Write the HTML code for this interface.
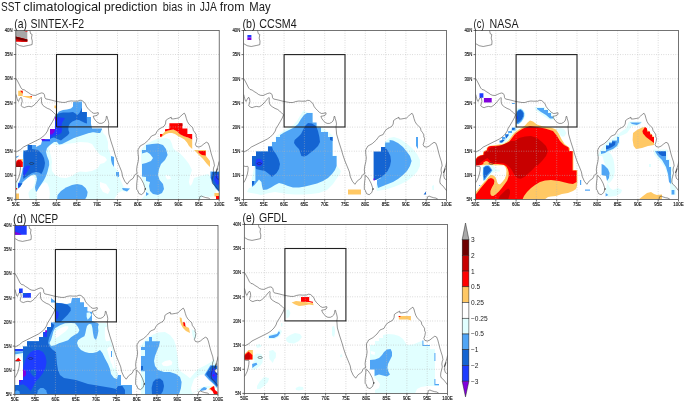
<!DOCTYPE html>
<html lang="en"><head><meta charset="utf-8"><title>SST climatological prediction bias in JJA from May</title>
<style>html,body{margin:0;padding:0;background:#fff}svg{display:block}text{font-family:"Liberation Sans", "DejaVu Sans", sans-serif;fill:#1a1a1a}.t{font-size:13.5px}.k{font-size:5.8px;fill:#111;stroke:#111;stroke-width:0.15px}.cb{font-size:6.6px;fill:#222}</style></head><body>
<svg width="685" height="402" viewBox="0 0 685 402">
<rect width="685" height="402" fill="#fff"/>
<text class="t" y="10.9"><tspan x="1" textLength="19.4" lengthAdjust="spacingAndGlyphs">SST</tspan> <tspan x="23.3" textLength="77.7" lengthAdjust="spacingAndGlyphs">climatological</tspan> <tspan x="104" textLength="53.3" lengthAdjust="spacingAndGlyphs">prediction</tspan> <tspan x="162.8" textLength="19.8" lengthAdjust="spacingAndGlyphs">bias</tspan> <tspan x="187.1" textLength="8.5" lengthAdjust="spacingAndGlyphs">in</tspan> <tspan x="199.7" textLength="16.6" lengthAdjust="spacingAndGlyphs">JJA</tspan> <tspan x="219.8" textLength="24.8" lengthAdjust="spacingAndGlyphs">from</tspan> <tspan x="249.3" textLength="21.3" lengthAdjust="spacingAndGlyphs">May</tspan></text>
<text class="t" y="27.5"><tspan x="14.3" textLength="12.7" lengthAdjust="spacingAndGlyphs">(a)</tspan> <tspan x="30.5" textLength="53.7" lengthAdjust="spacingAndGlyphs">SINTEX-F2</tspan></text>
<clipPath id="cpa"><rect x="0" y="0" width="203.4" height="169"/></clipPath>
<g transform="translate(15.8 30.4)">
<g clip-path="url(#cpa)">
<path d="M-0.4 0.1 L11.5 0.1 L11.5 9.1 L-0.4 6Z" fill="#a8a8a8"/>
<path d="M-0.4 6 L11.5 9.1 L11.5 11.3 L-0.4 11.3Z" fill="#ff0000"/>
<path d="M-0.4 6 L11.5 9.1 L11.5 11.3 L6.2 11.3 L2.6 10.5 L-0.4 9.1Z" fill="#c80000"/>
<path d="M-0.4 6 L11.5 9.1 L11.5 10.9 L6.2 9.9 L-0.4 8Z" fill="#6e0000"/>
<path d="M8.6 0.5 L11.6 0.5 L11.6 1.3 L10.1 1.2Z" fill="#ff0000"/>
<path d="M2.4 60.3 L6.9 60.3 L6.9 65.5 L16.1 65.5 L16.1 68.5 L6.9 66.1 L6.9 65.6 L2.4 65.6Z" fill="#ffc864"/>
<path d="M4.4 60.3 L6.9 60.3 L6.9 63.3Z" fill="#ff0000"/>
<path d="M14.1 65.5 L16.1 65.5 L16.1 66.8Z" fill="#ff0000"/>
<path d="M38.6 75.2 L40.2 75.2 L40.2 78 L38.6 77.6Z" fill="#ffc864"/>
<path d="M76.2 98 L86.2 98 L87.2 102.6 L90.2 105.6 L92.2 111.6 L92.2 117.6 L94.2 122.6 L95.2 125.6 L98.6 126.6 L98.6 136.6 L103.2 141.6 L103.6 147.2 L108.2 157.2 L114.6 158 L111.2 161.6 L106.2 160.6 L102.2 162.6 L98.2 169 L11.2 169 L11.2 162.6 L8.2 159.6 L4.2 158.6 L0.2 160.6 L0.2 151.6 L3.2 151.6 L5.2 145.6 L7.2 136.6 L7.2 120.6 L7.2 120 L11.6 120 L11.6 114.6 L20.2 114.6 L20.2 116.6 L25.2 114 L26.2 110.6 L26.2 108.8 L34.2 108.8 L34.2 98.6 L39.2 98.6 L39.2 87 L40.6 84.6 L43.2 81 L47.2 79.6 L51.2 79 L55.2 78 L57.2 76 L57.2 71.6 L66.2 71.2 L66.2 81.6 L71.2 81.6 L71.2 86.6 L75.2 86.6 L75.2 93.6Z" fill="#e1ffff"/>
<path d="M33.6 116 L36.2 113.6 L43.2 115.2 L50.2 113.6 L58.2 112.6 L64.2 111.6 L72.2 112 L76.2 113.6 L80.2 119.6 L84.2 124.6 L89.2 126.6 L91.2 129.6 L88.2 132.6 L84.2 133.6 L82.2 137.6 L76.2 140.6 L70.2 141.6 L64.2 141.2 L60.2 142.6 L56.2 145.6 L50.2 147.6 L44.2 147.2 L39.2 144.6 L36.2 140.6 L35.6 135.6 L36.2 131.6 L35.6 127.6 L34.6 123.6 L33.6 119.6Z" fill="#ffffff"/>
<path d="M6.6 152.6 L9.2 150 L12.2 147.6 L15.6 145.4 L18.2 146 L19.4 149.6 L18.6 153.6 L17.2 157.6 L14.2 159.6 L12.6 162.6 L13.2 166.6 L14.2 169 L3.6 169 L3.6 162.6 L2.4 158.6 L4.6 156Z" fill="#ffffff"/>
<path d="M26.2 153.6 L29.2 151.6 L31.6 153 L33.4 157.6 L34 163.6 L33.4 169 L21.2 169 L20.6 162.6 L23.2 157.6Z" fill="#ffffff"/>
<path d="M84.2 151.6 L90.2 153.6 L94.2 159.6 L92.2 163.6 L87.2 161.6 L84.2 156.6Z" fill="#ffffff"/>
<path d="M57.2 71.6 L66.2 71.2 L66.2 81.6 L71.2 81.6 L71.2 86.6 L75.2 86.6 L75.2 93.6 L76.2 98 L86.2 98 L84.2 102.6 L76.2 101.6 L70.2 103.6 L64.2 105.6 L58.2 107.6 L54.2 109.6 L50.2 111.6 L46.2 113.6 L43.2 114 L41.2 111.6 L38.2 111.6 L34.2 114.6 L31.2 117.6 L30.2 121.6 L31.2 125.6 L33.2 130.6 L33.4 134.6 L32.6 137.6 L31.6 141.6 L30.2 145.6 L28.2 149.6 L25.6 153.6 L23.2 157 L20.6 161.6 L19.6 159.6 L19.2 156.6 L20.2 152.6 L21.2 148.6 L20.2 144.6 L17.6 144 L15.2 145 L12.2 147 L9.2 149.6 L6.6 152 L4.6 156 L2.4 158.2 L2.4 153 L4.2 149.6 L5.2 145.6 L6.2 141.6 L7.2 136.6 L7.2 120.6 L7.2 120 L11.6 120 L11.6 114.6 L20.2 114.6 L20.2 116.6 L25.2 114 L26.2 110.6 L26.2 108.8 L34.2 108.8 L34.2 98.6 L39.2 98.6 L39.2 87 L40.6 84.6 L43.2 81 L47.2 79.6 L51.2 79 L55.2 78 L57.2 76Z" fill="#50a5f5"/>
<path d="M41.2 169 L41.8 164.6 L45.2 160.6 L50.2 157.2 L56.2 154.6 L61.2 153.6 L66.2 154.6 L69.8 157.6 L71.8 161.6 L71.2 165.6 L69.2 169Z" fill="#50a5f5"/>
<path d="M95.2 125.6 L98.2 126.6 L98.2 136.6 L96.2 133.6 L95.2 129.6Z" fill="#50a5f5"/>
<path d="M100.2 141.6 L103.2 141.6 L103.2 146.6 L100.2 145.6Z" fill="#50a5f5"/>
<path d="M106.2 157.6 L114.2 158 L111.2 161.2 L107.2 159.6Z" fill="#50a5f5"/>
<path d="M72.2 87.6 L75.2 87.6 L75.2 95.6 L72.2 95.6Z" fill="#50a5f5"/>
<path d="M42.6 83 L47.2 82 L53.2 82 L57.2 81.6 L59.6 83 L61.6 84.6 L63.6 82.6 L65.2 79.6 L66.2 77 L66.2 81.6 L71 81.6 L71 87.6 L71.2 93 L69.2 92.6 L66.2 91 L63.2 89.6 L60.2 89.6 L56.6 91 L54.2 93 L52.6 96 L52.6 99.6 L53.6 102.6 L52.2 104.6 L49.6 106.6 L47.6 108 L45.2 110 L41.6 108.6 L38.2 107 L34.6 108 L34.2 108.8 L34.2 98.6 L39.2 98.6 L39.2 87 L40.6 84.6Z" fill="#1464d2"/>
<path d="M12.2 114.6 L16.2 114.6 L16.2 118.6 L22.2 119.6 L26.2 123.6 L28.2 127.6 L29.2 132.6 L28.6 136.6 L27.2 140.6 L25.6 143.6 L23.2 142 L20.2 141.6 L16.2 142.6 L13.2 144.6 L10.2 146.6 L7.6 148.6 L7.2 143.6 L8.2 136.6 L8.2 129.6 L7.8 125.6 L8.2 120.6 L12.2 119.6Z" fill="#1464d2"/>
<path d="M39.6 86.6 L44.2 87 L49.2 87.6 L47.6 90 L46.2 92.6 L45.6 96 L46.4 99 L45.6 102.6 L42.6 104 L39.2 105 L36.2 106.6 L34.6 108 L34.2 108.8 L34.2 98.6 L39.2 98.6Z" fill="#1e3cff"/>
<path d="M26.2 108.8 L34.2 108.8 L34.2 110.8 L26.2 110.8Z" fill="#1e3cff"/>
<path d="M7.6 137.6 L11.2 135 L14.6 135.6 L13.2 138.6 L11.2 141.6 L9.2 144.6 L7.6 146.6Z" fill="#1e3cff"/>
<path d="M2.4 152.8 L6.8 152.8 L4.6 156 L2.4 158.2Z" fill="#1464d2"/>
<path d="M2.4 153.2 L4.6 153.2 L3.4 155.6 L2.4 156.6Z" fill="#1e3cff"/>
<path d="M39.2 87 L40.4 87 L40.4 90 L39.2 90Z" fill="#8200dc"/>
<path d="M34.2 98.6 L39.2 98.6 L38.6 101.6 L36.2 104 L34.2 104Z" fill="#8200dc"/>
<path d="M25.6 108.6 L29.6 108.6 L28.6 109.8 L25.6 109.8Z" fill="#8200dc"/>
<path d="M3.2 128.6 L7 128.6 L7 132.6 L5.2 129.6Z" fill="#ffc864"/>
<path d="M0.2 133.6 L0.6 130.6 L2.6 129 L5.2 129.4 L7 132 L7 136.6 L0.2 136.6Z" fill="#ff0000"/>
<path d="M0.2 134 L1 131.6 L2.6 130.4 L4.2 131.6 L5 134.6 L4.6 136.6 L0.2 136.6Z" fill="#c80000"/>
<path d="M0.2 126 L3.6 125 L2.2 126.6 L0.2 127.6Z" fill="#50a5f5"/>
<path d="M0.2 157.6 L1.4 157.6 L1.4 159.2 L0.2 159.2Z" fill="#ff0000"/>
<path d="M0.2 163.2 L3.2 163.2 L3.2 169 L0.2 169Z" fill="#ffc864"/>
<path d="M125.2 119.6 L130.2 113.6 L136.2 110.6 L141.2 108.6 L145.2 108.2 L150.2 107.6 L154.2 109 L156.2 113.6 L157.2 117.6 L160.2 120.6 L163.8 122.6 L167.2 126 L170.2 129.6 L173.2 133.6 L176.2 139.6 L174.2 145.6 L173.2 151.6 L174.2 155.6 L176.2 153.6 L178.2 147.6 L184.2 145.6 L192.2 143.6 L196.2 147.6 L200.2 153.6 L200.2 161.6 L198.2 165.6 L194.2 166.6 L188.2 165.6 L184.2 169 L125.2 169 L130.2 163.6 L129.2 157.6 L125.8 146Z" fill="#e1ffff"/>
<path d="M149.2 144.6 L154.2 145.6 L155.2 148.6 L151.2 149.2Z" fill="#ffffff"/>
<path d="M126.2 119.6 L130.2 119.6 L130.2 114.6 L136.2 113.6 L142.2 113.2 L147.2 114.6 L150.2 118.6 L151.8 124.6 L149.2 129.6 L145.2 133.6 L143.2 138.6 L142.2 144.6 L143.8 149.6 L147.2 153.6 L148.2 158.6 L146.2 162.6 L142.2 164.6 L137.2 163.6 L134.2 160.6 L133.2 155.6 L134.2 151.6 L130.2 150.6 L130.2 146.6 L126.2 146 L126.2 133.6 L130.2 132.6 L135.2 130.6 L137.2 127.6 L134.2 123.6 L131.2 121.6 L126.2 123.2Z" fill="#50a5f5"/>
<path d="M130.2 161.6 L133.2 163.6 L130.2 165.6Z" fill="#50a5f5"/>
<path d="M144.2 106 L146.2 104 L149.2 101 L153.2 99.6 L157.6 99 L161.2 100.6 L164.2 103.6 L168.2 105.6 L172.2 107 L176.4 109 L176.4 118.6 L173.2 115.6 L171.2 112 L168.6 109 L165.2 107 L162.2 105.6 L159.2 103.6 L156.2 102.6 L153.2 102.6 L150.2 103.6 L147.2 105.6 L145.2 107Z" fill="#ffc864"/>
<path d="M153.6 92.8 L166.6 92.8 L166.6 98 L171.6 98 L171.6 103.6 L176.4 103.6 L176.4 109.2 L172.2 107.2 L168.2 105.8 L164.2 103.8 L161.2 100.8 L157.6 99.2 L153.2 99.8 L149.2 101.2 L149.2 98.8 L153.6 98.4Z" fill="#ff0000"/>
<path d="M162.6 93 L166.6 93 L166.6 95.6 L162.6 95Z" fill="#c80000"/>
<path d="M144.2 103.6 L146.6 103.6 L146.6 105 L145.2 106.6 L144.2 106Z" fill="#ff0000"/>
<path d="M178.2 119.6 L190.2 119.6 L190.2 125.6 L194.2 130.6 L194.2 136.6 L191.2 133.6 L187.2 128.6 L183.2 124.6 L180.2 121.6Z" fill="#ffc864"/>
<path d="M182.2 120.6 L189.8 120.6 L189.8 125.2 L186.2 124.6 L183.2 122.6Z" fill="#ff0000"/>
<path d="M194.6 141.2 L203.4 141.2 L203.4 161.6 L200.2 158.6 L196.6 152.6 L194.6 147.2Z" fill="#50a5f5"/>
<path d="M196.2 141.6 L203.4 141.6 L203.4 160.6 L200.2 157.6 L197.2 152.6 L195.2 147.6Z" fill="#1464d2"/>
<path d="M199.2 144.6 L202.2 143.6 L203.4 153.6 L201.2 154.6 L198.2 149.6Z" fill="#1e3cff"/>
<path d="M198.6 162.6 L203.4 162.6 L203.4 166 L198.6 166Z" fill="#ffc864"/>
<path d="M200.2 165.6 L203.4 165.6 L203.4 169 L200.2 169Z" fill="#ff0000"/>
<path d="M72.2 98.6 L86.2 98.6 L84.2 102.6 L78.2 101.6 L72.2 102.6Z" fill="#50a5f5"/>
<path d="M20.3 0V169M40.7 0V24.1 M40.7 96.6V169M61 0V169M81.4 0V169M101.7 0V24.1 M101.7 96.6V169M122 0V169M142.4 0V169M162.7 0V169M183.1 0V169M0 24.1H40.7 M101.7 24.1H203.4M0 48.3H203.4M0 72.4H203.4M0 96.6H40.7 M101.7 96.6H203.4M0 120.7H203.4M0 144.9H203.4" fill="none" stroke="#b4b4b4" stroke-width="0.6" stroke-dasharray="0.8 1.6"/>
<path d="M14.1 -0.2 L14.7 3.2 L16.3 4 L15.7 7.6 L16.5 10.6 L16.3 14.2 L12.7 15 L7.7 16 L3.7 15.2 L0.3 13.2 M0.2 48.1 L1.7 50.6 L3.7 54.5 L5.2 57.5 L6.6 59 L8.6 59.5 L10.6 61 L13.1 62.5 L15.1 64 L17.1 64.8 L19.6 65 L21.8 64 L24.1 63 L26 62.5 L27.7 63 L28.7 64.5 L29 67 L30 68.5 L32.5 69 L35.5 69.7 L38.5 70.5 L40.7 71 L43.5 71.5 L46.4 72 L49.4 72 L52.4 71 L55.4 70.5 L57.9 70.7 L61.4 70.7 L61.7 70.8 L64.2 69.8 L66.1 70.1 L68.1 71.6 L69.6 73.5 L70.6 76 L72.1 78 L74.1 80 L76.1 82 L78.1 83 L80.6 82.7 L82.4 82.2 L82.6 83.5 L81.4 85 L79.1 85.5 L77.4 85.8 L78.1 87.7 L79.6 90 L81.6 91.9 L83.6 92.9 L86 92.9 L88 91.9 L89.5 90.5 L90.3 88.3 L90.5 86 L91.3 86 L91.7 88 L92.5 90.5 L93 93.4 L92.5 96.4 L93.1 103.6 L95.1 110.6 L97.7 118.6 L99.4 124.5 L101.4 130.4 L103.9 136.4 L105.9 141.4 L106.9 146.4 L108.9 150.8 L111.4 153.8 L113.9 150.3 L117.3 147.9 L118.8 144.9 L119.8 143.7 L121.3 143.4 L120.8 139.4 L121.3 135.4 L122.3 131.4 L122.8 127.5 L122.3 123.5 L122.1 119.5 L122.7 118.6 L124.3 115.6 L128.7 113.2 L132.7 109.6 L135.7 105.6 L139.7 104 L141.2 101 L143.2 98.7 L145.7 97.3 L148.2 96 L149.7 93.5 L150.1 90 L152.1 88.5 L154.4 87.3 L155.4 86.7 L155.6 88.5 L157.6 88.5 L160.6 88 L163.1 87.5 L165.1 85.6 L167.1 83.6 L168.6 82.8 L169.6 84.6 L170.5 88 L171.5 91 L173 93.5 L175 95.5 L177 97.5 L177.5 100 L179 102 L180.5 104.5 L180.1 105.6 L181.1 108.1 L180.6 111.1 L179.6 114.1 L180.6 116 L183.1 116.7 L185.6 115.6 L188 113.6 L190.5 111.8 L192.3 112.6 L193.5 115.6 L194.5 119.5 L195.5 123.5 L196.7 127.5 L198 131.5 L198.7 135.5 L198 136.6 L197.5 139.6 L198 142.6 L197.3 145.5 L196.5 148.5 L196.3 151.5 L197 153.5 L199 155 L201 157.5 L202.5 159.5 L203.3 160.5 M203.3 131 L202.5 134.5 L201 138.9 L200 142.4 L201.7 138.1 L200.5 142.1 L200.3 145.5 L201 148 L202.3 149 L203.3 148.5 M183.6 168.9 L183.9 166.4 L185.6 165.6 L187.5 166.4 L190 167.2 L192.5 167.6 L194.5 168.9 M120.9 159.5 L120.8 156.3 L121 152.3 L121.5 148.4 L121.5 144.9 L123.8 146.4 L125.8 149.4 L127.8 153.3 L129.1 157.3 L129.5 159.5 L129.7 157.6 L128.3 162 L125.7 164.2 L123.1 163.2 L121.7 159.6 M0.2 64 L0.7 66 L1.2 68 L1.9 70.3 L2.7 71 L3.5 69 L4.5 67.3 L5.5 67 L6.1 68.5 L6.4 71 L5.7 73.5 L5.2 75.2 L6.6 76.4 L8.6 77.2 L10.6 76.4 L13.1 75.9 L15.6 76.4 L17.6 75.2 L19.6 73.5 L21.8 71 L23.9 68.5 L25.4 67 L25.8 68 L25.6 70.5 L26 73 L27 74.9 L29 76.4 L31.5 77.9 L34 78.9 L36 80.4 L37.5 81.9 L39 83.4 L40.1 84.2 L38.7 87.6 L36.7 91.2 L34.7 94.6 L32.7 97.6 L31.7 100.6 L29.7 103.6 L26.7 106.6 L23.7 108.6 L19.7 110.6 L15.7 112.6 L11.7 114.6 L7.7 116.6 L4.7 119.2 L0.3 121.6 M0.2 135.5 L2.2 136 L4.2 135.8 L4.7 137 L4.5 140 L3.9 143.5 L2.9 146.9 L1.5 149.9 L0.2 152.2 M18 133.1 L17.8 133.5 L17.3 133.8 L16.6 134 L15.8 134.1 L15 134 L14.3 133.8 L13.8 133.5 L13.6 133.1 L13.8 132.7 L14.3 132.4 L15 132.2 L15.8 132.1 L16.6 132.2 L17.3 132.4 L17.8 132.7 L18 133.1" fill="none" stroke="#2a2a2a" stroke-width="0.5" stroke-linejoin="round"/>
</g>
<path d="M0 169v2M20.3 169v2M40.7 169v2M61 169v2M81.4 169v2M101.7 169v2M122 169v2M142.4 169v2M162.7 169v2M183.1 169v2M203.4 169v2M0 0h-2M0 24.1h-2M0 48.3h-2M0 72.4h-2M0 96.6h-2M0 120.7h-2M0 144.9h-2M0 169h-2" fill="none" stroke="#333" stroke-width="0.7"/>
<rect x="0" y="0" width="203.4" height="169" fill="none" stroke="#383838" stroke-width="0.7"/>
<rect x="40.7" y="24.1" width="61" height="72.4" fill="none" stroke="#202020" stroke-width="1.1"/>
<text class="k" x="-4" y="175.2" textLength="7.9" lengthAdjust="spacingAndGlyphs">50E</text>
<text class="k" x="16.4" y="175.2" textLength="7.9" lengthAdjust="spacingAndGlyphs">55E</text>
<text class="k" x="36.7" y="175.2" textLength="7.9" lengthAdjust="spacingAndGlyphs">60E</text>
<text class="k" x="57.1" y="175.2" textLength="7.9" lengthAdjust="spacingAndGlyphs">65E</text>
<text class="k" x="77.4" y="175.2" textLength="7.9" lengthAdjust="spacingAndGlyphs">70E</text>
<text class="k" x="97.7" y="175.2" textLength="7.9" lengthAdjust="spacingAndGlyphs">75E</text>
<text class="k" x="118.1" y="175.2" textLength="7.9" lengthAdjust="spacingAndGlyphs">80E</text>
<text class="k" x="138.4" y="175.2" textLength="7.9" lengthAdjust="spacingAndGlyphs">85E</text>
<text class="k" x="158.8" y="175.2" textLength="7.9" lengthAdjust="spacingAndGlyphs">90E</text>
<text class="k" x="179.1" y="175.2" textLength="7.9" lengthAdjust="spacingAndGlyphs">95E</text>
<text class="k" x="198.2" y="175.2" textLength="10.4" lengthAdjust="spacingAndGlyphs">100E</text>
<text class="k" x="-11.1" y="1.8" textLength="7.9" lengthAdjust="spacingAndGlyphs">40N</text>
<text class="k" x="-11.1" y="25.9" textLength="7.9" lengthAdjust="spacingAndGlyphs">35N</text>
<text class="k" x="-11.1" y="50.1" textLength="7.9" lengthAdjust="spacingAndGlyphs">30N</text>
<text class="k" x="-11.1" y="74.2" textLength="7.9" lengthAdjust="spacingAndGlyphs">25N</text>
<text class="k" x="-11.1" y="98.4" textLength="7.9" lengthAdjust="spacingAndGlyphs">20N</text>
<text class="k" x="-11.1" y="122.5" textLength="7.9" lengthAdjust="spacingAndGlyphs">15N</text>
<text class="k" x="-11.1" y="146.7" textLength="7.9" lengthAdjust="spacingAndGlyphs">10N</text>
<text class="k" x="-9.1" y="170.8" textLength="5.9" lengthAdjust="spacingAndGlyphs">5N</text>
</g>
<text class="t" y="27.8"><tspan x="242.5" textLength="13" lengthAdjust="spacingAndGlyphs">(b)</tspan> <tspan x="259.3" textLength="37.4" lengthAdjust="spacingAndGlyphs">CCSM4</tspan></text>
<clipPath id="cpb"><rect x="0" y="0" width="203" height="169"/></clipPath>
<g transform="translate(243.5 30.5)">
<g clip-path="url(#cpb)">
<path d="M3.9 4.4 L7.9 4.4 L7.9 7 L3.9 7Z" fill="#1e3cff"/>
<path d="M3.9 7 L7.9 7 L7.9 9.4 L3.9 9.4Z" fill="#8200dc"/>
<path d="M59.9 79.9 L64.5 82.1 L69.1 82.1 L69.1 91.5 L84.5 101.1 L89.5 105.5 L89.5 125.1 L93.5 125.1 L93.5 135.5 L97.5 140.5 L96.5 143.5 L93.5 147.5 L89.5 153.5 L83.5 159.5 L75.5 162.5 L67.5 163.5 L59.5 163.9 L51.5 163.9 L43.5 163.5 L37.5 162.5 L31.5 161.5 L25.5 162.5 L21.5 163.5 L17.5 164.5 L13.5 163.5 L7.5 162.5 L3.5 161.5 L5.5 157.5 L7.9 157.1 L7.9 150.5 L12.5 125.5 L12.5 120.7 L24.1 120.7 L24.1 115.5 L28.1 115.5 L28.1 111.1 L32.1 111.1 L32.1 106.1 L35.5 103.5 L40.5 99.9 L45.5 97.1 L49.9 94.5 L53.5 90.5 L56.5 85.5Z" fill="#e1ffff"/>
<path d="M63.5 82.5 L69.1 82.5 L69.1 91.9 L73.1 91.9 L73.1 97.1 L77.5 97.1 L77.5 101.5 L84.5 101.5 L84.5 106.5 L89.1 106.5 L89.1 125.5 L93.1 125.5 L93.1 135.5 L91.5 139.5 L88.5 143.5 L84.5 147.5 L79.5 150.5 L73.5 152.9 L67.5 154.5 L61.5 155.9 L55.5 157.1 L49.5 157.1 L44.5 155.5 L39.5 153.5 L35.5 152.5 L31.5 154.5 L27.5 157.1 L23.5 159.1 L19.5 159.5 L18.5 155.5 L17.9 151.5 L15.5 149.1 L13.5 151.5 L11.1 154.5 L8.5 156.5 L8.5 150.5 L11.9 150.5 L11.9 135.5 L8.5 135.5 L8.5 125.5 L12.5 125.5 L12.5 121.1 L12.5 121.1 L24.5 121.1 L24.5 115.9 L28.5 115.9 L28.5 111.5 L32.5 111.5 L32.5 106.5 L36.5 106.5 L36.5 104.5 L41.5 101.5 L45.5 99.5 L50.5 97.1 L54.5 93.5 L57.5 88.5 L60.5 84.5Z" fill="#50a5f5"/>
<path d="M12.5 121.1 L24.5 121.1 L24.5 115.9 L28.5 115.9 L29.5 119.5 L32.5 123.5 L35.1 128.5 L36.5 133.5 L35.5 138.5 L33.1 142.5 L29.5 145.5 L28.5 146.5 L25.5 143.5 L21.5 140.5 L16.5 139.5 L12.5 138.5 L11.9 135.5 L8.5 135.5 L8.5 125.5 L12.5 125.5Z" fill="#1464d2"/>
<path d="M12.5 129.1 L15.5 127.9 L18.5 129.5 L19.5 132.5 L17.5 135.5 L13.9 135.9 L11.9 133.5Z" fill="#1e3cff"/>
<path d="M64.5 92.5 L68.5 93.1 L72.5 95.5 L74.5 100.5 L75.9 106.5 L76.5 111.5 L74.5 115.5 L70.5 119.5 L66.5 122.5 L63.5 125.1 L60.5 126.1 L57.9 125.5 L56.5 121.5 L55.5 118.5 L52.5 115.5 L50.5 112.5 L51.1 109.5 L54.5 106.5 L57.5 103.5 L59.5 99.5 L61.5 95.5Z" fill="#1464d2"/>
<path d="M86.5 106.5 L89.1 106.5 L89.1 110.5 L86.5 109.5Z" fill="#1464d2"/>
<path d="M8.5 150.5 L10.5 150.5 L10.5 153.5 L8.5 155.5Z" fill="#1464d2"/>
<path d="M104.5 159.1 L117.5 159.1 L117.5 164.1 L104.5 164.1Z" fill="#ffc864"/>
<path d="M141.5 111.5 L145.5 107.5 L150.5 106.5 L156.5 108.5 L162.5 112.5 L168.5 117.5 L173.5 123.5 L176.5 129.5 L176.5 135.5 L173.5 141.5 L168.5 146.5 L163.5 150.5 L157.5 153.5 L151.5 155.9 L145.5 157.9 L139.5 159.5 L133.5 160.5 L132.5 157.5 L133.5 151.5Z" fill="#e1ffff"/>
<path d="M137.5 116.5 L141.5 116.5 L141.5 111.9 L146.1 111.9 L146.1 109.5 L149.5 109.9 L154.5 112.5 L159.5 116.5 L163.5 121.5 L166.5 125.5 L168.1 130.5 L166.5 135.5 L163.5 140.5 L159.5 144.5 L154.5 148.5 L149.5 151.5 L144.5 153.5 L139.5 155.5 L134.5 157.5 L133.5 153.5 L133.5 149.5 L137.5 147.5Z" fill="#50a5f5"/>
<path d="M130.1 121.1 L137.5 121.1 L137.5 116.5 L141.5 116.5 L144.5 120.5 L146.9 125.5 L147.5 130.5 L146.5 135.5 L144.1 140.5 L140.5 144.5 L136.5 147.5 L132.5 149.5 L130.1 149.5Z" fill="#1464d2"/>
<path d="M130.1 147.9 L131.3 147.9 L131.3 149.9 L130.1 149.9Z" fill="#8200dc"/>
<path d="M172.5 106.5 L174.5 106.5 L174.5 118.5 L172.5 115.5Z" fill="#50a5f5"/>
<path d="M180.1 163.9 L182.5 161.1 L182.5 163.9Z" fill="#1464d2"/>
<path d="M188.5 155.5 L190.5 154.5 L190.5 159.5 L188.9 159.5Z" fill="#e1ffff"/>
<path d="M20.3 0V169M40.6 0V24.1 M40.6 96.6V169M60.9 0V169M81.2 0V169M101.5 0V24.1 M101.5 96.6V169M121.8 0V169M142.1 0V169M162.4 0V169M182.7 0V169M0 24.1H40.6 M101.5 24.1H203M0 48.3H203M0 72.4H203M0 96.6H40.6 M101.5 96.6H203M0 120.7H203M0 144.9H203" fill="none" stroke="#b4b4b4" stroke-width="0.6" stroke-dasharray="0.8 1.6"/>
<path d="M14.1 -0.2 L14.7 3.2 L16.3 4 L15.7 7.6 L16.5 10.6 L16.3 14.2 L12.7 15 L7.7 16 L3.7 15.2 L0.3 13.2 M0.2 48.1 L1.7 50.6 L3.7 54.5 L5.2 57.5 L6.6 59 L8.6 59.5 L10.6 61 L13.1 62.5 L15.1 64 L17.1 64.8 L19.6 65 L21.8 64 L24.1 63 L26 62.5 L27.7 63 L28.7 64.5 L29 67 L30 68.5 L32.5 69 L35.5 69.7 L38.5 70.5 L40.7 71 L43.5 71.5 L46.4 72 L49.4 72 L52.4 71 L55.4 70.5 L57.9 70.7 L61.4 70.7 L61.7 70.8 L64.2 69.8 L66.1 70.1 L68.1 71.6 L69.6 73.5 L70.6 76 L72.1 78 L74.1 80 L76.1 82 L78.1 83 L80.6 82.7 L82.4 82.2 L82.6 83.5 L81.4 85 L79.1 85.5 L77.4 85.8 L78.1 87.7 L79.6 90 L81.6 91.9 L83.6 92.9 L86 92.9 L88 91.9 L89.5 90.5 L90.3 88.3 L90.5 86 L91.3 86 L91.7 88 L92.5 90.5 L93 93.4 L92.5 96.4 L93.1 103.6 L95.1 110.6 L97.7 118.6 L99.4 124.5 L101.4 130.4 L103.9 136.4 L105.9 141.4 L106.9 146.4 L108.9 150.8 L111.4 153.8 L113.9 150.3 L117.3 147.9 L118.8 144.9 L119.8 143.7 L121.3 143.4 L120.8 139.4 L121.3 135.4 L122.3 131.4 L122.8 127.5 L122.3 123.5 L122.1 119.5 L122.7 118.6 L124.3 115.6 L128.7 113.2 L132.7 109.6 L135.7 105.6 L139.7 104 L141.2 101 L143.2 98.7 L145.7 97.3 L148.2 96 L149.7 93.5 L150.1 90 L152.1 88.5 L154.4 87.3 L155.4 86.7 L155.6 88.5 L157.6 88.5 L160.6 88 L163.1 87.5 L165.1 85.6 L167.1 83.6 L168.6 82.8 L169.6 84.6 L170.5 88 L171.5 91 L173 93.5 L175 95.5 L177 97.5 L177.5 100 L179 102 L180.5 104.5 L180.1 105.6 L181.1 108.1 L180.6 111.1 L179.6 114.1 L180.6 116 L183.1 116.7 L185.6 115.6 L188 113.6 L190.5 111.8 L192.3 112.6 L193.5 115.6 L194.5 119.5 L195.5 123.5 L196.7 127.5 L198 131.5 L198.7 135.5 L198 136.6 L197.5 139.6 L198 142.6 L197.3 145.5 L196.5 148.5 L196.3 151.5 L197 153.5 L199 155 L201 157.5 L202.5 159.5 L203.3 160.5 M203.3 131 L202.5 134.5 L201 138.9 L200 142.4 L201.7 138.1 L200.5 142.1 L200.3 145.5 L201 148 L202.3 149 L203.3 148.5 M183.6 168.9 L183.9 166.4 L185.6 165.6 L187.5 166.4 L190 167.2 L192.5 167.6 L194.5 168.9 M120.9 159.5 L120.8 156.3 L121 152.3 L121.5 148.4 L121.5 144.9 L123.8 146.4 L125.8 149.4 L127.8 153.3 L129.1 157.3 L129.5 159.5 L129.7 157.6 L128.3 162 L125.7 164.2 L123.1 163.2 L121.7 159.6 M0.2 64 L0.7 66 L1.2 68 L1.9 70.3 L2.7 71 L3.5 69 L4.5 67.3 L5.5 67 L6.1 68.5 L6.4 71 L5.7 73.5 L5.2 75.2 L6.6 76.4 L8.6 77.2 L10.6 76.4 L13.1 75.9 L15.6 76.4 L17.6 75.2 L19.6 73.5 L21.8 71 L23.9 68.5 L25.4 67 L25.8 68 L25.6 70.5 L26 73 L27 74.9 L29 76.4 L31.5 77.9 L34 78.9 L36 80.4 L37.5 81.9 L39 83.4 L40.1 84.2 L38.7 87.6 L36.7 91.2 L34.7 94.6 L32.7 97.6 L31.7 100.6 L29.7 103.6 L26.7 106.6 L23.7 108.6 L19.7 110.6 L15.7 112.6 L11.7 114.6 L7.7 116.6 L4.7 119.2 L0.3 121.6 M0.2 135.5 L2.2 136 L4.2 135.8 L4.7 137 L4.5 140 L3.9 143.5 L2.9 146.9 L1.5 149.9 L0.2 152.2 M18 133.1 L17.8 133.5 L17.3 133.8 L16.6 134 L15.8 134.1 L15 134 L14.3 133.8 L13.8 133.5 L13.6 133.1 L13.8 132.7 L14.3 132.4 L15 132.2 L15.8 132.1 L16.6 132.2 L17.3 132.4 L17.8 132.7 L18 133.1" fill="none" stroke="#2a2a2a" stroke-width="0.5" stroke-linejoin="round"/>
</g>
<path d="M0 169v2M20.3 169v2M40.6 169v2M60.9 169v2M81.2 169v2M101.5 169v2M121.8 169v2M142.1 169v2M162.4 169v2M182.7 169v2M203 169v2M0 0h-2M0 24.1h-2M0 48.3h-2M0 72.4h-2M0 96.6h-2M0 120.7h-2M0 144.9h-2M0 169h-2" fill="none" stroke="#333" stroke-width="0.7"/>
<rect x="0" y="0" width="203" height="169" fill="none" stroke="#383838" stroke-width="0.7"/>
<rect x="40.6" y="24.1" width="60.9" height="72.4" fill="none" stroke="#202020" stroke-width="1.1"/>
<text class="k" x="-4" y="175.2" textLength="7.9" lengthAdjust="spacingAndGlyphs">50E</text>
<text class="k" x="16.3" y="175.2" textLength="7.9" lengthAdjust="spacingAndGlyphs">55E</text>
<text class="k" x="36.6" y="175.2" textLength="7.9" lengthAdjust="spacingAndGlyphs">60E</text>
<text class="k" x="56.9" y="175.2" textLength="7.9" lengthAdjust="spacingAndGlyphs">65E</text>
<text class="k" x="77.2" y="175.2" textLength="7.9" lengthAdjust="spacingAndGlyphs">70E</text>
<text class="k" x="97.5" y="175.2" textLength="7.9" lengthAdjust="spacingAndGlyphs">75E</text>
<text class="k" x="117.8" y="175.2" textLength="7.9" lengthAdjust="spacingAndGlyphs">80E</text>
<text class="k" x="138.2" y="175.2" textLength="7.9" lengthAdjust="spacingAndGlyphs">85E</text>
<text class="k" x="158.4" y="175.2" textLength="7.9" lengthAdjust="spacingAndGlyphs">90E</text>
<text class="k" x="178.8" y="175.2" textLength="7.9" lengthAdjust="spacingAndGlyphs">95E</text>
<text class="k" x="197.8" y="175.2" textLength="10.4" lengthAdjust="spacingAndGlyphs">100E</text>
<text class="k" x="-11.1" y="1.8" textLength="7.9" lengthAdjust="spacingAndGlyphs">40N</text>
<text class="k" x="-11.1" y="25.9" textLength="7.9" lengthAdjust="spacingAndGlyphs">35N</text>
<text class="k" x="-11.1" y="50.1" textLength="7.9" lengthAdjust="spacingAndGlyphs">30N</text>
<text class="k" x="-11.1" y="74.2" textLength="7.9" lengthAdjust="spacingAndGlyphs">25N</text>
<text class="k" x="-11.1" y="98.4" textLength="7.9" lengthAdjust="spacingAndGlyphs">20N</text>
<text class="k" x="-11.1" y="122.5" textLength="7.9" lengthAdjust="spacingAndGlyphs">15N</text>
<text class="k" x="-11.1" y="146.7" textLength="7.9" lengthAdjust="spacingAndGlyphs">10N</text>
<text class="k" x="-9.1" y="170.8" textLength="5.9" lengthAdjust="spacingAndGlyphs">5N</text>
</g>
<text class="t" y="28.2"><tspan x="473.5" textLength="11" lengthAdjust="spacingAndGlyphs">(c)</tspan> <tspan x="489.5" textLength="29" lengthAdjust="spacingAndGlyphs">NASA</tspan></text>
<clipPath id="cpc"><rect x="0" y="0" width="203" height="169"/></clipPath>
<g transform="translate(475.5 30.5)">
<g clip-path="url(#cpc)">
<path d="M80.5 97.9 L84.5 97.9 L87.9 99.5 L89.5 103.5 L87.9 106.5 L85.5 105.5 L83.5 102.5Z" fill="#e1ffff"/>
<path d="M83.5 97.1 L88.5 98.5 L90.9 102.5 L88.9 105.9 L85.7 102.5Z" fill="#e1ffff"/>
<path d="M35.5 97.9 L39.9 95.5 L42.5 97.9 L38.5 102.5 L34.5 107.5 L29.5 112.5 L23.5 114.5 L23.5 112.5 L28.5 109.5 L32.5 104.5Z" fill="#e1ffff"/>
<path d="M54.5 89.9 L57.5 91.1 L61.5 94.1 L67.5 96.1 L75.5 97.1 L80.5 99.1 L83.5 103.5 L85.9 108.5 L89.1 113.5 L92.5 115.9 L94.5 117.9 L94.5 120.5 L97.9 120.5 L97.9 139.5 L101.9 139.5 L101.9 151.5 L101.5 155.5 L100.5 158.5 L97.5 160.5 L92.5 162.5 L86.5 163.5 L80.5 165.5 L75.5 165.9 L72.5 166.5 L69.5 168.7 L-0.1 168.7 L-0.1 153.5 L-0.1 161.9 L1.5 159.9 L4.5 156.4 L7.4 152.9 L10.4 149.4 L12.9 146.4 L15.4 144.2 L18.4 145.2 L20.4 147.4 L21.2 150.4 L22.4 153.4 L24.4 153.9 L26.8 151.4 L29.3 148.4 L30.8 144.4 L31.1 140.5 L30.3 137.5 L28.3 135 L5 135 L-0.1 135 L-0.1 128.4 L0.5 127.9 L2 125.9 L5 124.4 L7.4 124.2 L7.6 121.6 L8.9 120.2 L10.9 119.5 L11.4 117.3 L13.2 115.5 L9.9 118.5 L13.5 115.5 L19.5 114.5 L27.5 113.5 L32.5 110.5 L35.5 106.5 L38.5 102.5 L42.5 99.5 L46.5 97.1 L49.5 95.1 L52.1 91.9Z" fill="#ffc864"/>
<path d="M54.5 95.5 L61.5 96.5 L69.5 97.9 L77.5 100.5 L81.5 105.5 L84.5 110.5 L88.5 114.5 L93.1 117.1 L93.5 120.5 L97.1 120.5 L97.1 139.9 L101.1 139.9 L101.1 151.5 L97.5 153.5 L93.5 152.9 L89.5 151.9 L83.5 150.5 L75.5 149.5 L69.5 149.9 L64.5 151.5 L59.5 154.5 L55.5 157.5 L51.5 161.5 L48.5 165.5 L47.1 168.7 L-0.1 168.7 L-0.1 164.3 L1.5 162.4 L4.5 158.4 L7.4 154.9 L10.4 151.4 L12.9 148.6 L15.4 147.4 L17.9 148.4 L18.9 150.4 L18.4 153.4 L16.4 156.9 L14.9 160.4 L14.9 163.4 L15.9 165.3 L17.9 165.5 L20.4 163.8 L23.4 160.9 L26.3 157.4 L29.3 153.4 L31.8 149.9 L33.1 145.9 L33.3 142.5 L32.5 139 L30.8 136 L28.8 134.5 L26.3 133.9 L22.4 133.4 L18.9 133.4 L15.4 132.9 L13.4 131.9 L12.4 130.9 L10.4 130.4 L7.9 131.9 L7.9 133.4 L5.5 134.4 L3.5 134.9 L1.5 135.4 L-0 135.6 L-0 129.4 L0.5 128.4 L2 126.4 L5 124.9 L7.9 124.4 L8.2 121.9 L9.4 120.6 L11.4 119.9 L11.9 117.5 L13.4 116 L15.4 115.5 L19.4 115.5 L24.4 115 L28.3 114 L32.3 112 L35.3 110 L33.5 111.5 L36.5 107.5 L39.5 103.5 L43.5 100.5 L47.5 97.9Z" fill="#ff0000"/>
<path d="M35.3 110.5 L30.3 113 L25.4 115 L20.4 116.3 L15.4 117 L13.4 118.5 L12.9 120.4 L10.4 120.9 L8.9 121.9 L8.9 124.4 L5.5 125.4 L2.5 126.9 L1 128.9 L0.5 132.4 L1 134.9 L3 134.4 L4 132.9 L6.4 130.9 L9.4 128.9 L11.9 127.4 L13.4 128.9 L15.4 130.9 L18.4 131.9 L22.4 132.2 L27.3 132.6 L30.3 133.4 L32.8 135.4 L35.3 137.9 L37.3 141.3 L39.3 145.3 L42.3 147.8 L45.3 148.3 L49.2 146.3 L53.2 142.8 L57.2 138.9 L61.2 134.4 L61.5 135.5 L66.5 130.5 L70.5 125.5 L72.5 120.5 L70.5 115.5 L66.5 111.5 L61.5 107.5 L55.5 105.5 L49.5 105.9 L43.5 107.5 L39.5 110.5Z" fill="#c80000"/>
<path d="M22.9 168.6 L24.4 165.3 L27.3 162.4 L30.3 159.6 L32.8 157.9 L34.3 159.4 L34.5 162.4 L33.8 165.3 L32.8 168.6Z" fill="#c80000"/>
<path d="M5 135 L28.3 135 L30.3 137.5 L31.1 140.5 L30.8 144.4 L29.3 148.4 L26.8 151.4 L24.4 153.9 L22.4 153.4 L21.2 150.4 L20.4 147.4 L18.4 145.2 L15.4 144.2 L12.9 146.4 L10.4 149.4 L7.4 152.9 L4.5 156.4 L1.5 159.9 L-0.1 161.9 L-0.1 135Z" fill="#ffffff"/>
<path d="M28.3 135 L29.8 137 L31.3 139.5 L32.1 142.5 L31.8 145.9 L30.8 149.4 L28.3 152.9 L25.4 156.9 L22.4 160.4 L19.4 163.4 L16.9 165.1 L15.9 164.3 L15.4 161.9 L15.9 158.9 L17.4 155.9 L19.4 152.9 L20.4 149.9 L19.9 147.4 L17.9 145.4 L15.4 144.9 L12.9 147.4 L10.4 150.4 L7.4 153.9 L4.5 157.4 L1.5 160.9 L-0.1 162.9 L-0.1 161.9 L1.5 159.9 L4.5 156.4 L7.4 152.9 L10.4 149.4 L12.9 146.4 L15.4 144.2 L18.4 145.2 L20.4 147.4 L21.2 150.4 L22.4 153.4 L24.4 153.9 L26.8 151.4 L29.3 148.4 L30.8 144.4 L31.1 140.5 L30.3 137.5Z" fill="#ffc864"/>
<path d="M6.9 136.5 L10.4 134.3 L16.9 134.7 L19.2 137 L19.6 139 L24.4 139.3 L24.4 141.1 L19.4 141.1 L16.9 142.5 L14.9 143.9 L12.4 146.4 L9.9 150.2 L7.6 150.6 L6.9 143.5Z" fill="#e1ffff"/>
<path d="M7.6 137 L10.4 135 L13.4 135 L15.4 137.5 L16.9 139.7 L15.4 142 L13.4 143.9 L11.4 146.4 L9.4 149.4 L7.9 149.9 L7.4 143.5Z" fill="#50a5f5"/>
<path d="M8.4 137.5 L9.9 136 L12.4 135.5 L14.4 137.5 L15.9 139.7 L14.4 141.5 L12.4 143.5 L10.4 145.9 L8.9 148.4 L8.2 145.4 L8.1 141.5Z" fill="#1464d2"/>
<path d="M3.5 154.4 L4.7 154.4 L4.7 155.4 L3.5 155.4Z" fill="#50a5f5"/>
<path d="M36.5 97.1 L39.9 97.1 L39.9 99.9 L36.5 99.9 L36.5 102.5 L33.1 102.5 L33.1 105.5 L29.9 105.5 L29.9 109.1 L27.1 109.1 L27.1 111.9 L23.9 111.9 L23.9 109.9 L26.5 109.9 L26.5 106.5 L29.5 106.5 L29.5 103.5 L32.7 103.5 L32.7 100.5 L36.1 100.5Z" fill="#50a5f5"/>
<path d="M36.7 97.5 L39.5 97.5 L37.9 99.5 L36.7 99.5Z" fill="#1464d2"/>
<path d="M29.9 105.5 L32.7 103.5 L32.7 105.5 L30.7 107.9Z" fill="#1464d2"/>
<path d="M24.7 110.5 L27.5 109.1 L29.1 109.9 L26.5 111.9 L24.7 111.9Z" fill="#1464d2"/>
<path d="M4 62.7 L7.9 62.7 L7.9 67.2 L4 67.2Z" fill="#1e3cff"/>
<path d="M8.4 67.6 L16.2 67.6 L16.2 71.9 L8.4 71.9Z" fill="#8200dc"/>
<path d="M36.5 72.4 L39.3 72.4 L39.3 73.4 L36.5 73.4Z" fill="#50a5f5"/>
<path d="M41.1 77.9 L43.3 77.6 L45.7 77.6 L48.2 79.4 L49.7 82.2 L49.7 85.8 L48.2 89.3 L45.7 92.1 L43.3 94.1 L41.1 94.8Z" fill="#e1ffff"/>
<path d="M41.1 81.2 L43.1 78.9 L45.3 78.6 L47.2 79.9 L48.7 82.4 L48.7 85.4 L47.7 88.3 L45.7 91.3 L43.3 93.3 L41.1 93.8Z" fill="#50a5f5"/>
<path d="M41.1 82.4 L42.8 79.9 L44.8 79.2 L46.7 80.4 L47.9 82.9 L47.7 85.8 L46.2 88.8 L44.3 90.8 L42.3 92.3 L41.1 92.8Z" fill="#1464d2"/>
<path d="M41.1 85.8 L42.3 85.8 L42.3 88.3 L41.1 88.3Z" fill="#1e3cff"/>
<path d="M59.1 76.5 L69.5 76.5 L69.5 78.5 L73.5 78.5 L73.5 81.5 L76.5 81.5 L76.5 84.5 L79.1 85.5 L79.1 89.1 L74.5 89.5 L69.5 86.5 L64.5 83.1 L59.9 79.5Z" fill="#e1ffff"/>
<path d="M61.5 77.5 L68.5 77.5 L68.5 79.5 L72.5 79.5 L72.5 82.5 L75.5 82.5 L75.5 85.5 L77.5 86.5 L77.5 87.9 L74.5 87.9 L70.5 84.5 L65.5 81.5 L61.5 78.5Z" fill="#50a5f5"/>
<path d="M122.5 124.5 L124.9 119.5 L129.5 113.5 L132.5 110.5 L136.5 108.5 L140.5 105.5 L144.1 102.5 L147.5 99.9 L150.5 97.9 L153.5 91.1 L166.5 91.1 L164.5 95.1 L156.5 95.5 L151.5 102.5 L147.5 104.5 L144.5 105.5 L144.5 112.5 L142.5 116.5 L138.5 119.1 L133.5 121.5 L130.5 124.5 L128.5 125.5 L122.5 125.5Z" fill="#e1ffff"/>
<path d="M124.9 119.9 L131.5 120.5 L135.5 123.5 L137.9 128.5 L138.9 134.5 L139.3 141.5 L137.9 147.5 L134.9 151.5 L131.5 153.5 L129.5 162.5 L132.5 166.5 L140.5 165.5 L145.5 162.5 L146.5 159.5 L142.5 157.5 L137.5 159.5 L134.5 157.5 L132.5 153.5 L130.5 145.9 L126.1 144.5 L126.1 133.5 L129.9 134.5 L128.5 131.5 L127.5 127.5 L125.9 123.5Z" fill="#e1ffff"/>
<path d="M154.5 91.9 L166.1 91.9 L161.5 94.5 L156.5 93.5Z" fill="#50a5f5"/>
<path d="M125.5 120.5 L130.5 120.5 L130.5 114.5 L133.5 114.5 L133.5 111.9 L136.5 111.9 L136.5 109.9 L141.5 109.9 L141.5 106.5 L143.5 106.5 L143.5 111.5 L141.5 115.5 L137.5 118.5 L132.5 120.5 L129.5 122.5 L125.5 123.5Z" fill="#50a5f5"/>
<path d="M130.5 115.5 L133.5 115.5 L133.5 113.1 L136.5 113.1 L136.5 111.1 L140.1 111.1 L139.5 114.5 L136.5 116.5 L132.5 118.5 L130.5 118.5Z" fill="#1464d2"/>
<path d="M126.1 133.5 L128.5 134.5 L132.5 138.5 L134.1 142.5 L133.5 147.5 L131.5 150.5 L130.5 145.5 L126.1 144.5Z" fill="#50a5f5"/>
<path d="M104.5 149.5 L105.7 149.5 L105.7 154.5 L104.5 154.5Z" fill="#50a5f5"/>
<path d="M109.5 159.1 L114.5 159.1 L114.5 160.3 L109.5 160.3Z" fill="#50a5f5"/>
<path d="M130.1 162.5 L132.9 164.5 L130.1 165.9Z" fill="#50a5f5"/>
<path d="M157.5 102.5 L161.5 99.5 L166.5 97.1 L169.5 96.5 L178.5 106.5 L178.5 114.5 L172.5 115.5 L166.5 117.5 L160.5 118.5 L158.1 115.5 L157.1 109.5Z" fill="#ffc864"/>
<path d="M169.5 96.5 L171.5 97.9 L171.5 101.1 L174.5 101.1 L174.5 103.9 L176.5 103.9 L176.5 106.5 L178.5 106.5 L178.5 112.5 L174.5 109.5 L170.5 106.5 L167.5 103.1 L166.9 100.5Z" fill="#ff0000"/>
<path d="M178.1 119.1 L192.1 119.1 L192.1 128.5 L194.9 128.5 L194.9 135.5 L196.9 136.5 L196.9 153.5 L200.5 157.5 L200.5 164.5 L195.5 164.5 L194.5 153.5 L192.1 144.5 L189.5 137.5 L185.5 131.5 L181.5 127.5 L178.5 123.5Z" fill="#e1ffff"/>
<path d="M179.5 120.5 L190.5 120.5 L190.5 129.5 L193.5 129.5 L193.5 136.5 L195.5 136.5 L195.5 153.5 L193.5 151.5 L192.5 143.5 L190.5 136.5 L186.5 129.5 L182.5 125.5 L180.5 122.5Z" fill="#50a5f5"/>
<path d="M181.5 121.1 L190.5 121.1 L190.5 125.5 L186.5 125.5 L183.5 123.5Z" fill="#1464d2"/>
<path d="M196.1 159.5 L198.9 159.5 L198.9 163.9 L196.1 163.9Z" fill="#50a5f5"/>
<path d="M173.5 133.5 L175.5 133.5 L175.5 136.5 L173.5 136.5Z" fill="#e1ffff"/>
<path d="M163.5 168.7 L167.5 165.5 L171.5 162.5 L175.5 161.5 L178.5 163.5 L181.5 164.5 L186.5 163.9 L186.5 168.7Z" fill="#ffc864"/>
<path d="M20.3 0V169M40.6 0V24.1 M40.6 96.6V169M60.9 0V169M81.2 0V169M101.5 0V24.1 M101.5 96.6V169M121.8 0V169M142.1 0V169M162.4 0V169M182.7 0V169M0 24.1H40.6 M101.5 24.1H203M0 48.3H203M0 72.4H203M0 96.6H40.6 M101.5 96.6H203M0 120.7H203M0 144.9H203" fill="none" stroke="#b4b4b4" stroke-width="0.6" stroke-dasharray="0.8 1.6"/>
<path d="M14.1 -0.2 L14.7 3.2 L16.3 4 L15.7 7.6 L16.5 10.6 L16.3 14.2 L12.7 15 L7.7 16 L3.7 15.2 L0.3 13.2 M0.2 48.1 L1.7 50.6 L3.7 54.5 L5.2 57.5 L6.6 59 L8.6 59.5 L10.6 61 L13.1 62.5 L15.1 64 L17.1 64.8 L19.6 65 L21.8 64 L24.1 63 L26 62.5 L27.7 63 L28.7 64.5 L29 67 L30 68.5 L32.5 69 L35.5 69.7 L38.5 70.5 L40.7 71 L43.5 71.5 L46.4 72 L49.4 72 L52.4 71 L55.4 70.5 L57.9 70.7 L61.4 70.7 L61.7 70.8 L64.2 69.8 L66.1 70.1 L68.1 71.6 L69.6 73.5 L70.6 76 L72.1 78 L74.1 80 L76.1 82 L78.1 83 L80.6 82.7 L82.4 82.2 L82.6 83.5 L81.4 85 L79.1 85.5 L77.4 85.8 L78.1 87.7 L79.6 90 L81.6 91.9 L83.6 92.9 L86 92.9 L88 91.9 L89.5 90.5 L90.3 88.3 L90.5 86 L91.3 86 L91.7 88 L92.5 90.5 L93 93.4 L92.5 96.4 L93.1 103.6 L95.1 110.6 L97.7 118.6 L99.4 124.5 L101.4 130.4 L103.9 136.4 L105.9 141.4 L106.9 146.4 L108.9 150.8 L111.4 153.8 L113.9 150.3 L117.3 147.9 L118.8 144.9 L119.8 143.7 L121.3 143.4 L120.8 139.4 L121.3 135.4 L122.3 131.4 L122.8 127.5 L122.3 123.5 L122.1 119.5 L122.7 118.6 L124.3 115.6 L128.7 113.2 L132.7 109.6 L135.7 105.6 L139.7 104 L141.2 101 L143.2 98.7 L145.7 97.3 L148.2 96 L149.7 93.5 L150.1 90 L152.1 88.5 L154.4 87.3 L155.4 86.7 L155.6 88.5 L157.6 88.5 L160.6 88 L163.1 87.5 L165.1 85.6 L167.1 83.6 L168.6 82.8 L169.6 84.6 L170.5 88 L171.5 91 L173 93.5 L175 95.5 L177 97.5 L177.5 100 L179 102 L180.5 104.5 L180.1 105.6 L181.1 108.1 L180.6 111.1 L179.6 114.1 L180.6 116 L183.1 116.7 L185.6 115.6 L188 113.6 L190.5 111.8 L192.3 112.6 L193.5 115.6 L194.5 119.5 L195.5 123.5 L196.7 127.5 L198 131.5 L198.7 135.5 L198 136.6 L197.5 139.6 L198 142.6 L197.3 145.5 L196.5 148.5 L196.3 151.5 L197 153.5 L199 155 L201 157.5 L202.5 159.5 L203.3 160.5 M203.3 131 L202.5 134.5 L201 138.9 L200 142.4 L201.7 138.1 L200.5 142.1 L200.3 145.5 L201 148 L202.3 149 L203.3 148.5 M183.6 168.9 L183.9 166.4 L185.6 165.6 L187.5 166.4 L190 167.2 L192.5 167.6 L194.5 168.9 M120.9 159.5 L120.8 156.3 L121 152.3 L121.5 148.4 L121.5 144.9 L123.8 146.4 L125.8 149.4 L127.8 153.3 L129.1 157.3 L129.5 159.5 L129.7 157.6 L128.3 162 L125.7 164.2 L123.1 163.2 L121.7 159.6 M0.2 64 L0.7 66 L1.2 68 L1.9 70.3 L2.7 71 L3.5 69 L4.5 67.3 L5.5 67 L6.1 68.5 L6.4 71 L5.7 73.5 L5.2 75.2 L6.6 76.4 L8.6 77.2 L10.6 76.4 L13.1 75.9 L15.6 76.4 L17.6 75.2 L19.6 73.5 L21.8 71 L23.9 68.5 L25.4 67 L25.8 68 L25.6 70.5 L26 73 L27 74.9 L29 76.4 L31.5 77.9 L34 78.9 L36 80.4 L37.5 81.9 L39 83.4 L40.1 84.2 L38.7 87.6 L36.7 91.2 L34.7 94.6 L32.7 97.6 L31.7 100.6 L29.7 103.6 L26.7 106.6 L23.7 108.6 L19.7 110.6 L15.7 112.6 L11.7 114.6 L7.7 116.6 L4.7 119.2 L0.3 121.6 M0.2 135.5 L2.2 136 L4.2 135.8 L4.7 137 L4.5 140 L3.9 143.5 L2.9 146.9 L1.5 149.9 L0.2 152.2 M18 133.1 L17.8 133.5 L17.3 133.8 L16.6 134 L15.8 134.1 L15 134 L14.3 133.8 L13.8 133.5 L13.6 133.1 L13.8 132.7 L14.3 132.4 L15 132.2 L15.8 132.1 L16.6 132.2 L17.3 132.4 L17.8 132.7 L18 133.1" fill="none" stroke="#2a2a2a" stroke-width="0.5" stroke-linejoin="round"/>
</g>
<path d="M0 169v2M20.3 169v2M40.6 169v2M60.9 169v2M81.2 169v2M101.5 169v2M121.8 169v2M142.1 169v2M162.4 169v2M182.7 169v2M203 169v2M0 0h-2M0 24.1h-2M0 48.3h-2M0 72.4h-2M0 96.6h-2M0 120.7h-2M0 144.9h-2M0 169h-2" fill="none" stroke="#333" stroke-width="0.7"/>
<rect x="0" y="0" width="203" height="169" fill="none" stroke="#383838" stroke-width="0.7"/>
<rect x="40.6" y="24.1" width="60.9" height="72.4" fill="none" stroke="#202020" stroke-width="1.1"/>
<text class="k" x="-4" y="175.2" textLength="7.9" lengthAdjust="spacingAndGlyphs">50E</text>
<text class="k" x="16.3" y="175.2" textLength="7.9" lengthAdjust="spacingAndGlyphs">55E</text>
<text class="k" x="36.6" y="175.2" textLength="7.9" lengthAdjust="spacingAndGlyphs">60E</text>
<text class="k" x="56.9" y="175.2" textLength="7.9" lengthAdjust="spacingAndGlyphs">65E</text>
<text class="k" x="77.2" y="175.2" textLength="7.9" lengthAdjust="spacingAndGlyphs">70E</text>
<text class="k" x="97.5" y="175.2" textLength="7.9" lengthAdjust="spacingAndGlyphs">75E</text>
<text class="k" x="117.8" y="175.2" textLength="7.9" lengthAdjust="spacingAndGlyphs">80E</text>
<text class="k" x="138.2" y="175.2" textLength="7.9" lengthAdjust="spacingAndGlyphs">85E</text>
<text class="k" x="158.4" y="175.2" textLength="7.9" lengthAdjust="spacingAndGlyphs">90E</text>
<text class="k" x="178.8" y="175.2" textLength="7.9" lengthAdjust="spacingAndGlyphs">95E</text>
<text class="k" x="197.8" y="175.2" textLength="10.4" lengthAdjust="spacingAndGlyphs">100E</text>
<text class="k" x="-11.1" y="1.8" textLength="7.9" lengthAdjust="spacingAndGlyphs">40N</text>
<text class="k" x="-11.1" y="25.9" textLength="7.9" lengthAdjust="spacingAndGlyphs">35N</text>
<text class="k" x="-11.1" y="50.1" textLength="7.9" lengthAdjust="spacingAndGlyphs">30N</text>
<text class="k" x="-11.1" y="74.2" textLength="7.9" lengthAdjust="spacingAndGlyphs">25N</text>
<text class="k" x="-11.1" y="98.4" textLength="7.9" lengthAdjust="spacingAndGlyphs">20N</text>
<text class="k" x="-11.1" y="122.5" textLength="7.9" lengthAdjust="spacingAndGlyphs">15N</text>
<text class="k" x="-11.1" y="146.7" textLength="7.9" lengthAdjust="spacingAndGlyphs">10N</text>
<text class="k" x="-9.1" y="170.8" textLength="5.9" lengthAdjust="spacingAndGlyphs">5N</text>
</g>
<text class="t" y="223.4"><tspan x="13" textLength="13.5" lengthAdjust="spacingAndGlyphs">(d)</tspan> <tspan x="30.5" textLength="27.5" lengthAdjust="spacingAndGlyphs">NCEP</tspan></text>
<clipPath id="cpd"><rect x="0" y="0" width="203.2" height="169"/></clipPath>
<g transform="translate(14.8 225.4)">
<g clip-path="url(#cpd)">
<path d="M-0.3 0 L11.9 0 L11.9 9.4 L-0.3 9.4Z" fill="#1e3cff"/>
<path d="M-0.3 6.2 L5.1 8.2 L6.9 9.4 L-0.3 9.4Z" fill="#8200dc"/>
<path d="M3.6 0 L8.3 0 L6.1 1.2Z" fill="#8200dc"/>
<path d="M4.2 63 L7.9 63 L7.9 67.5 L4.2 67.5Z" fill="#1e3cff"/>
<path d="M8.1 67.7 L16.1 67.7 L16.1 72.3 L8.1 72.3Z" fill="#1e3cff"/>
<path d="M8.1 67.7 L13.1 67.7 L8.1 70.5Z" fill="#1464d2"/>
<path d="M36.2 72.5 L40.2 75.6 L40.2 77.2 L36.2 77.2Z" fill="#50a5f5"/>
<path d="M41.2 96.6 L41.2 77.6 L52.2 78.6 L56.2 77.6 L57.2 72.6 L65.2 72.6 L65.2 76.9 L69.2 76.9 L69.2 81.6 L72.6 81.6 L72.6 85.9 L77.2 86.6 L77.2 95.6 L83.2 97.9 L89.2 103.6 L93.2 111.6 L95.2 121.6 L99.2 139.6 L103.2 149.6 L106.2 149.6 L106.2 159.6 L117.2 159.6 L117.2 168.9 L-0.4 168.9 L-0.4 159.6 L4.2 159.6 L4.2 154.6 L8.2 154.6 L8.2 125.6 L-0.4 125.6 L-0.4 123.6 L8.2 123.6 L8.2 121.2 L12.2 121.2 L12.2 115.9 L24.2 115.9 L24.2 111.6 L28.2 111.6 L28.2 106.6 L32.2 106.6 L32.2 101.6 L36.2 101.6 L36.2 97.2Z" fill="#50a5f5"/>
<path d="M72.2 100.6 L74.2 98.6 L76.6 98.9 L77.6 102.6 L78.2 107.6 L79.2 112.6 L81.2 114.6 L82.6 110.6 L83.6 105.6 L83.2 101.6 L84.2 97.6 L91.2 97.6 L92.6 101.6 L94.2 107.6 L95.6 114.6 L97.2 120.6 L98.4 123.6 L99.2 131.6 L100.2 139.6 L102.2 145.6 L103.2 149.6 L102.2 153.6 L99.2 152.6 L96.2 148.6 L95.2 143.6 L93.2 138.6 L90.2 133.2 L87.6 127.6 L85.2 124.6 L82.2 126.6 L78.2 127.6 L74.2 127.6 L70.2 126.6 L66.2 124.6 L63.6 121.6 L62.2 117.6 L63.2 114.9 L66.2 112.6 L69.6 110.9 L70.6 107.6 L71.4 103.6Z" fill="#e1ffff"/>
<path d="M90.2 101.6 L92.6 101.6 L94.2 107.6 L95.6 114.6 L94.2 115.6 L91.2 115.9 L90.2 112.6 L90 107.6Z" fill="#ffffff"/>
<path d="M94.2 121.6 L96.6 120.9 L97.6 126.6 L99.2 135.6 L100.2 143.6 L98.2 142.6 L96.6 136.6 L95.2 129.6Z" fill="#ffffff"/>
<path d="M40.2 102.9 L45.2 99.9 L50.2 97.9 L56.2 97.6 L60.2 97.9 L63.2 101.6 L64.6 104.9 L63.2 107.6 L59.2 109.9 L56.2 111.9 L53.2 114.9 L48.2 116.6 L44.2 117.9 L40.2 119.9 L36.2 120.6 L34.6 117.6 L36.2 114.6 L37.6 109.9 L38.6 105.9Z" fill="#e1ffff"/>
<path d="M41.2 105.6 L45.2 102.9 L50.2 100.9 L53.2 100.9 L53.6 102.6 L51.2 105.6 L47.2 108.6 L43.2 111.6 L40.6 112.9 L40.2 108.9Z" fill="#ffffff"/>
<path d="M36.2 97.2 L39.6 99.6 L38.2 103.6 L36.2 107.6 L34.2 112.6 L33.2 117.6 L35.2 121.6 L38.2 124.6 L41.2 126.6 L41.6 132.6 L42.2 138.6 L43.2 144.6 L45.2 149.6 L49.2 152.6 L55.2 153.6 L61.2 154.6 L67.2 156.6 L73.2 158.6 L79.2 159.6 L85.2 160.6 L91.2 161.6 L97.2 162.6 L101.2 163.6 L103.2 160.6 L107.6 160.6 L110.2 164.6 L110.2 168.9 L-0.4 168.9 L-0.4 159.6 L4.2 159.6 L4.2 154.6 L8.2 154.6 L8.2 125.6 L-0.4 125.6 L-0.4 123.6 L8.2 123.6 L8.2 121.2 L12.2 121.2 L12.2 115.9 L24.2 115.9 L24.2 111.6 L28.2 111.6 L28.2 106.6 L32.2 106.6 L32.2 101.6 L36.2 101.6Z" fill="#1464d2"/>
<path d="M40.8 77.4 L46.9 77.9 L52.9 79.4 L55.9 82.4 L55.9 85.4 L52.9 89.4 L48.9 93.4 L45.9 96.3 L40.8 96.3Z" fill="#1464d2"/>
<path d="M40.8 85.4 L43.5 86.4 L44 89.4 L43 92.9 L40.8 94.4Z" fill="#1e3cff"/>
<path d="M71.8 87.4 L74.8 86.9 L76.8 89.4 L74.8 92.4 L72.8 94.4 L71.8 91.4Z" fill="#e1ffff"/>
<path d="M-0.4 166.6 L2.2 164.9 L4.6 165.9 L5.2 168.9 L-0.4 168.9Z" fill="#50a5f5"/>
<path d="M22.2 168.9 L23.2 164.9 L25.6 162.6 L28.6 162.6 L31.2 164.9 L32.6 168.9Z" fill="#50a5f5"/>
<path d="M15.6 126.9 L19.2 124.9 L24.2 124.6 L28.2 126.6 L30.6 130.6 L31.6 135.6 L31.6 137.6 L30.6 142.6 L28.2 147.6 L25.2 151.6 L22.2 154.6 L19.6 158.6 L17.6 162.6 L15.6 165.6 L13.6 162.9 L11.2 160.6 L8.2 158.9 L5.2 159.6 L4.2 159.6 L4.2 154.6 L8.2 154.6 L8.2 144.6 L8.6 140.6 L10.2 135.6 L12.6 130.6Z" fill="#1e3cff"/>
<path d="M-0.4 123.6 L8.2 123.6 L8.2 125.9 L-0.4 125.9Z" fill="#1e3cff"/>
<path d="M15.6 144.9 L19.2 143.9 L21.4 145.6 L21.4 149.6 L19.6 151.6 L17.2 149.6 L15.6 146.9Z" fill="#1464d2"/>
<path d="M28.8 106.6 L32.2 106.6 L32.2 111.6 L29.2 111.6Z" fill="#1e3cff"/>
<path d="M30.4 104.8 L32.2 104.8 L32.2 106.8 L30.4 106.8Z" fill="#8200dc"/>
<path d="M8.2 143.9 L11.2 145.6 L11.2 149.9 L8.2 151.9Z" fill="#8200dc"/>
<path d="M4.2 154.6 L6.2 154.6 L6.2 155.9 L4.2 155.9Z" fill="#8200dc"/>
<path d="M-0.4 125.9 L8.2 125.9 L8.2 129.2 L-0.4 132.6Z" fill="#50a5f5"/>
<path d="M-0.4 129.2 L8.2 127.6 L8.2 136.6 L-0.4 136.6Z" fill="#e1ffff"/>
<path d="M-0.4 131.6 L4.2 129.6 L7.2 132.6 L7.2 136.6 L-0.4 136.6Z" fill="#ffffff"/>
<path d="M0.2 135.6 L3.6 132.4 L6.4 135.6Z" fill="#ff0000"/>
<path d="M125.2 121.6 L131.2 113.6 L137.2 109.6 L143.2 107.2 L150.2 106.6 L155.2 109.6 L159.2 114.6 L161.2 120.6 L162.2 127.6 L163.2 133.6 L163.6 141.6 L165.6 145.9 L171.2 149.6 L175.2 152.9 L183.2 143.6 L191.2 139.6 L196.2 136.6 L199.2 133.6 L201.2 139.6 L202.4 141.6 L202.4 162.6 L195.2 162.6 L186.2 163.6 L180.2 166.6 L177.2 168.9 L126.2 168.9 L126.2 121.6Z" fill="#e1ffff"/>
<path d="M179.2 153.6 L185.2 149.6 L191.2 148.6 L195.2 151.6 L199.2 156.6 L199.2 160.6 L191.2 160.6 L185.2 162.6 L181.2 165.6 L177.2 167.6 L176.2 162.6Z" fill="#ffffff"/>
<path d="M146.8 137.9 L150.2 135.6 L155.2 134.6 L157.6 136.6 L156.8 139.6 L152.2 140.8 L148.2 140.4Z" fill="#ffffff"/>
<path d="M126.2 121.6 L130.2 121.6 L130.2 115.9 L134.2 115.9 L134.2 111.6 L137.2 111.6 L137.2 115.9 L145.2 115.9 L144.2 120.6 L142.2 125.6 L140.2 130.6 L139.2 135.6 L140.2 140.6 L143.2 144.6 L149.2 146.6 L155.2 146.6 L161.2 148.6 L165.2 151.6 L166.8 156.6 L166.2 162.6 L164.2 168.9 L130.2 168.9 L130.2 145.9 L126.2 145.9 L126.2 130.6 L130.2 130.6 L130.2 124.6 L126.2 124.6Z" fill="#50a5f5"/>
<path d="M137.2 168.9 L136.8 162.6 L138.2 156.6 L141.2 153.6 L145.2 153.2 L148.2 155.6 L149.2 160.6 L148.2 165.6 L146.2 168.9Z" fill="#1464d2"/>
<path d="M126.2 140.6 L128.2 140.6 L128.2 144.6 L126.2 144.6Z" fill="#1464d2"/>
<path d="M164.8 91.9 L166.8 92.6 L167.6 96.6 L170.2 100.6 L174.2 102.6 L175.2 107.6 L171.2 105.6 L168.2 102.6 L166.2 99.2 L165.2 95.6Z" fill="#ffc864"/>
<path d="M168.2 96.6 L170.2 97.2 L170.8 101.6 L168.8 99.9Z" fill="#ff0000"/>
<path d="M176.8 103.6 L180.2 105.6 L181.2 111.6 L179.2 114.6 L177.6 109.6Z" fill="#e1ffff"/>
<path d="M189.6 149.6 L195.6 139.9 L202.4 139.9 L202.4 162.6 L199.2 159.2 L194.2 154.6Z" fill="#50a5f5"/>
<path d="M191.2 148.6 L196.2 140.6 L202.4 140.6 L202.4 161.6 L199.2 157.6 L195.2 153.6Z" fill="#1464d2"/>
<path d="M195.2 147.6 L198.2 142.6 L201.2 143.6 L202.4 151.6 L200.2 155.6 L197.2 152.6Z" fill="#1e3cff"/>
<path d="M197.6 149.9 L198.8 148.8 L200 149.9 L198.8 151.2Z" fill="#8200dc"/>
<path d="M200.2 144.6 L201.6 143.6 L202.8 145.2 L201.6 147.6 L200.2 146.6Z" fill="#ffffff"/>
<path d="M193.6 163.9 L197.2 161.2 L199.2 160.6 L197.6 165.6Z" fill="#ffc864"/>
<path d="M195.2 163.2 L199.2 160.6 L200.2 164.6 L202.8 166.6 L202.8 168.9 L199.2 168.9 L197.6 165.6Z" fill="#ff0000"/>
<path d="M186.2 163.6 L189.2 161.6 L192.2 162.6 L191.2 164.6 L185.2 165.6Z" fill="#50a5f5"/>
<path d="M92.2 123.6 L94.2 121.6 L97.2 131.6 L98.2 139.6 L96.2 137.6 L94.2 130.6Z" fill="#ffffff"/>
<path d="M96.2 125.6 L97.2 125.6 L97.2 131.6 L96.2 131.6Z" fill="#50a5f5"/>
<path d="M110.2 159.6 L117.2 159.6 L117.2 168.9 L110.2 168.9Z" fill="#50a5f5"/>
<path d="M20.3 0V169M40.6 0V24.1 M40.6 96.6V169M61 0V169M81.3 0V169M101.6 0V24.1 M101.6 96.6V169M121.9 0V169M142.2 0V169M162.6 0V169M182.9 0V169M0 24.1H40.6 M101.6 24.1H203.2M0 48.3H203.2M0 72.4H203.2M0 96.6H40.6 M101.6 96.6H203.2M0 120.7H203.2M0 144.9H203.2" fill="none" stroke="#b4b4b4" stroke-width="0.6" stroke-dasharray="0.8 1.6"/>
<path d="M14.1 -0.2 L14.7 3.2 L16.3 4 L15.7 7.6 L16.5 10.6 L16.3 14.2 L12.7 15 L7.7 16 L3.7 15.2 L0.3 13.2 M0.2 48.1 L1.7 50.6 L3.7 54.5 L5.2 57.5 L6.6 59 L8.6 59.5 L10.6 61 L13.1 62.5 L15.1 64 L17.1 64.8 L19.6 65 L21.8 64 L24.1 63 L26 62.5 L27.7 63 L28.7 64.5 L29 67 L30 68.5 L32.5 69 L35.5 69.7 L38.5 70.5 L40.7 71 L43.5 71.5 L46.4 72 L49.4 72 L52.4 71 L55.4 70.5 L57.9 70.7 L61.4 70.7 L61.7 70.8 L64.2 69.8 L66.1 70.1 L68.1 71.6 L69.6 73.5 L70.6 76 L72.1 78 L74.1 80 L76.1 82 L78.1 83 L80.6 82.7 L82.4 82.2 L82.6 83.5 L81.4 85 L79.1 85.5 L77.4 85.8 L78.1 87.7 L79.6 90 L81.6 91.9 L83.6 92.9 L86 92.9 L88 91.9 L89.5 90.5 L90.3 88.3 L90.5 86 L91.3 86 L91.7 88 L92.5 90.5 L93 93.4 L92.5 96.4 L93.1 103.6 L95.1 110.6 L97.7 118.6 L99.4 124.5 L101.4 130.4 L103.9 136.4 L105.9 141.4 L106.9 146.4 L108.9 150.8 L111.4 153.8 L113.9 150.3 L117.3 147.9 L118.8 144.9 L119.8 143.7 L121.3 143.4 L120.8 139.4 L121.3 135.4 L122.3 131.4 L122.8 127.5 L122.3 123.5 L122.1 119.5 L122.7 118.6 L124.3 115.6 L128.7 113.2 L132.7 109.6 L135.7 105.6 L139.7 104 L141.2 101 L143.2 98.7 L145.7 97.3 L148.2 96 L149.7 93.5 L150.1 90 L152.1 88.5 L154.4 87.3 L155.4 86.7 L155.6 88.5 L157.6 88.5 L160.6 88 L163.1 87.5 L165.1 85.6 L167.1 83.6 L168.6 82.8 L169.6 84.6 L170.5 88 L171.5 91 L173 93.5 L175 95.5 L177 97.5 L177.5 100 L179 102 L180.5 104.5 L180.1 105.6 L181.1 108.1 L180.6 111.1 L179.6 114.1 L180.6 116 L183.1 116.7 L185.6 115.6 L188 113.6 L190.5 111.8 L192.3 112.6 L193.5 115.6 L194.5 119.5 L195.5 123.5 L196.7 127.5 L198 131.5 L198.7 135.5 L198 136.6 L197.5 139.6 L198 142.6 L197.3 145.5 L196.5 148.5 L196.3 151.5 L197 153.5 L199 155 L201 157.5 L202.5 159.5 L203.3 160.5 M203.3 131 L202.5 134.5 L201 138.9 L200 142.4 L201.7 138.1 L200.5 142.1 L200.3 145.5 L201 148 L202.3 149 L203.3 148.5 M183.6 168.9 L183.9 166.4 L185.6 165.6 L187.5 166.4 L190 167.2 L192.5 167.6 L194.5 168.9 M120.9 159.5 L120.8 156.3 L121 152.3 L121.5 148.4 L121.5 144.9 L123.8 146.4 L125.8 149.4 L127.8 153.3 L129.1 157.3 L129.5 159.5 L129.7 157.6 L128.3 162 L125.7 164.2 L123.1 163.2 L121.7 159.6 M0.2 64 L0.7 66 L1.2 68 L1.9 70.3 L2.7 71 L3.5 69 L4.5 67.3 L5.5 67 L6.1 68.5 L6.4 71 L5.7 73.5 L5.2 75.2 L6.6 76.4 L8.6 77.2 L10.6 76.4 L13.1 75.9 L15.6 76.4 L17.6 75.2 L19.6 73.5 L21.8 71 L23.9 68.5 L25.4 67 L25.8 68 L25.6 70.5 L26 73 L27 74.9 L29 76.4 L31.5 77.9 L34 78.9 L36 80.4 L37.5 81.9 L39 83.4 L40.1 84.2 L38.7 87.6 L36.7 91.2 L34.7 94.6 L32.7 97.6 L31.7 100.6 L29.7 103.6 L26.7 106.6 L23.7 108.6 L19.7 110.6 L15.7 112.6 L11.7 114.6 L7.7 116.6 L4.7 119.2 L0.3 121.6 M0.2 135.5 L2.2 136 L4.2 135.8 L4.7 137 L4.5 140 L3.9 143.5 L2.9 146.9 L1.5 149.9 L0.2 152.2 M18 133.1 L17.8 133.5 L17.3 133.8 L16.6 134 L15.8 134.1 L15 134 L14.3 133.8 L13.8 133.5 L13.6 133.1 L13.8 132.7 L14.3 132.4 L15 132.2 L15.8 132.1 L16.6 132.2 L17.3 132.4 L17.8 132.7 L18 133.1" fill="none" stroke="#2a2a2a" stroke-width="0.5" stroke-linejoin="round"/>
</g>
<path d="M0 169v2M20.3 169v2M40.6 169v2M61 169v2M81.3 169v2M101.6 169v2M121.9 169v2M142.2 169v2M162.6 169v2M182.9 169v2M203.2 169v2M0 0h-2M0 24.1h-2M0 48.3h-2M0 72.4h-2M0 96.6h-2M0 120.7h-2M0 144.9h-2M0 169h-2" fill="none" stroke="#333" stroke-width="0.7"/>
<rect x="0" y="0" width="203.2" height="169" fill="none" stroke="#383838" stroke-width="0.7"/>
<rect x="40.6" y="24.1" width="61" height="72.4" fill="none" stroke="#202020" stroke-width="1.1"/>
<text class="k" x="-4" y="175.2" textLength="7.9" lengthAdjust="spacingAndGlyphs">50E</text>
<text class="k" x="16.4" y="175.2" textLength="7.9" lengthAdjust="spacingAndGlyphs">55E</text>
<text class="k" x="36.7" y="175.2" textLength="7.9" lengthAdjust="spacingAndGlyphs">60E</text>
<text class="k" x="57" y="175.2" textLength="7.9" lengthAdjust="spacingAndGlyphs">65E</text>
<text class="k" x="77.3" y="175.2" textLength="7.9" lengthAdjust="spacingAndGlyphs">70E</text>
<text class="k" x="97.6" y="175.2" textLength="7.9" lengthAdjust="spacingAndGlyphs">75E</text>
<text class="k" x="118" y="175.2" textLength="7.9" lengthAdjust="spacingAndGlyphs">80E</text>
<text class="k" x="138.3" y="175.2" textLength="7.9" lengthAdjust="spacingAndGlyphs">85E</text>
<text class="k" x="158.6" y="175.2" textLength="7.9" lengthAdjust="spacingAndGlyphs">90E</text>
<text class="k" x="178.9" y="175.2" textLength="7.9" lengthAdjust="spacingAndGlyphs">95E</text>
<text class="k" x="198" y="175.2" textLength="10.4" lengthAdjust="spacingAndGlyphs">100E</text>
<text class="k" x="-11.1" y="1.8" textLength="7.9" lengthAdjust="spacingAndGlyphs">40N</text>
<text class="k" x="-11.1" y="25.9" textLength="7.9" lengthAdjust="spacingAndGlyphs">35N</text>
<text class="k" x="-11.1" y="50.1" textLength="7.9" lengthAdjust="spacingAndGlyphs">30N</text>
<text class="k" x="-11.1" y="74.2" textLength="7.9" lengthAdjust="spacingAndGlyphs">25N</text>
<text class="k" x="-11.1" y="98.4" textLength="7.9" lengthAdjust="spacingAndGlyphs">20N</text>
<text class="k" x="-11.1" y="122.5" textLength="7.9" lengthAdjust="spacingAndGlyphs">15N</text>
<text class="k" x="-11.1" y="146.7" textLength="7.9" lengthAdjust="spacingAndGlyphs">10N</text>
<text class="k" x="-9.1" y="170.8" textLength="5.9" lengthAdjust="spacingAndGlyphs">5N</text>
</g>
<text class="t" y="221.7"><tspan x="242.5" textLength="12.5" lengthAdjust="spacingAndGlyphs">(e)</tspan> <tspan x="259" textLength="28" lengthAdjust="spacingAndGlyphs">GFDL</tspan></text>
<clipPath id="cpe"><rect x="0" y="0" width="203.2" height="169"/></clipPath>
<g transform="translate(244.3 224.4)">
<g clip-path="url(#cpe)">
<path d="M47.3 78 L51.7 76.6 L56.7 77.2 L64.7 78 L68.7 78.6 L69.3 80.8 L64.7 80 L59.7 81.2 L54.7 81.6 L50.7 80Z" fill="#ffc864"/>
<path d="M56.7 72.5 L64.9 72.5 L64.9 76.5 L68.6 77.3 L68.6 78.7 L64.9 77.5 L56.7 77.3Z" fill="#ff0000"/>
<path d="M42.1 85.6 L44.7 85.2 L46.1 88.6 L44.7 92.6 L42.1 94Z" fill="#e1ffff"/>
<path d="M36.7 98.6 L38.1 98.6 L38.1 102 L36.7 102Z" fill="#e1ffff"/>
<path d="M41.7 113.6 L45.7 110.6 L50.7 108.6 L55.7 109.6 L57.7 112.6 L54.7 116.6 L49.7 119.2 L44.7 118.6 L42.1 116.6Z" fill="#e1ffff"/>
<path d="M87.7 102.6 L89.7 101.6 L90.7 106.6 L89.7 112.6 L87.7 110.6Z" fill="#e1ffff"/>
<path d="M24.7 126.6 L28.7 125.6 L31.7 128.6 L31.3 133.6 L28.7 135.6 L25.7 132.6Z" fill="#e1ffff"/>
<path d="M11.7 120.6 L15.7 119.6 L16.7 122.6 L12.7 123.6Z" fill="#e1ffff"/>
<path d="M23.7 110.6 L32.7 108 L35.3 104.6 L37.7 106.6 L35.7 111.6 L30.7 114.6 L23.7 114.6Z" fill="#e1ffff"/>
<path d="M24.7 111.6 L32.7 109.6 L34.7 106.6 L35.7 108.6 L33.7 111.6 L29.7 113.6 L24.7 113.6Z" fill="#50a5f5"/>
<path d="M12.7 161.6 L15.7 156.6 L20.7 153.2 L24.7 153.6 L23.7 157.6 L19.7 161.6 L15.7 164.6 L12.7 164.6Z" fill="#e1ffff"/>
<path d="M51.3 163.6 L54.7 162 L58.7 162.6 L59.3 165.2 L54.7 166 L51.7 165.6Z" fill="#e1ffff"/>
<path d="M95.7 130.6 L97.7 129.6 L98.1 132.6 L96.1 133.2Z" fill="#e1ffff"/>
<path d="M12.6 129 L17.1 129.5 L18.6 133 L18.1 138.5 L15.6 141.5 L11.6 144.5 L8.1 145.5 L7.6 142.5 L8.1 139 L10.6 135.5 L8.6 135 L9.1 131.5Z" fill="#e1ffff"/>
<path d="M12.1 120.6 L17.1 120.6 L17.1 122.1 L12.1 122.1Z" fill="#e1ffff"/>
<path d="M28.5 125.6 L31.5 131 L28.5 138.5 L25.1 134.5 L24.8 130.5Z" fill="#e1ffff"/>
<path d="M17.1 155.6 L19.1 152.9 L22.1 152.9 L24.6 155.6Z" fill="#e1ffff"/>
<path d="M7.8 139.5 L12.1 138.3 L13.1 140 L10.6 141.7 L8.1 143.5Z" fill="#50a5f5"/>
<path d="M1.7 128 L4.2 125.6 L8.6 125.6 L8.6 135 L0.2 135 L0.2 129.5Z" fill="#ffc864"/>
<path d="M0.2 130.5 L4.2 127 L8.1 130.5 L8.1 135 L0.2 135Z" fill="#ff0000"/>
<path d="M0.2 131.5 L4.2 128 L5.7 131.5 L5.2 135 L0.2 135Z" fill="#c80000"/>
<path d="M125.7 123.6 L125.7 120.6 L130.7 120.6 L130.7 116.6 L134.7 116.6 L134.7 113.6 L138.7 113.6 L138.7 110.6 L143.7 109.6 L149.7 110 L154.7 111.6 L158.7 114.6 L160.7 117.6 L162.7 120.6 L168.7 120 L174.7 117.6 L178.7 116 L179.7 120.6 L185.7 121.2 L185.7 124.6 L190.7 124.6 L190.7 159.6 L194.7 159.6 L194.7 161.6 L182.7 161.6 L176.7 162.6 L172.7 164.6 L170.7 169 L130.7 169 L130.7 165.6 L134.7 163.6 L135.7 159.6 L132.7 155.6 L129.7 152.6 L129.7 135.6 L125.7 135.6Z" fill="#e1ffff"/>
<path d="M126.3 126.6 L130.7 127.6 L130.3 130.6 L126.7 129.6Z" fill="#ffffff"/>
<path d="M125.7 135.6 L130.7 135.2 L134.7 133.6 L137.7 130.6 L139.7 127.6 L142.7 125.2 L146.3 124.6 L147.7 127.6 L147.7 131.6 L145.7 135.6 L143.7 139.6 L143.1 143.6 L144.3 147.6 L145.7 150 L142.7 152 L138.7 151.2 L134.7 150 L130.3 151.6 L130.3 145.2 L125.7 145.2Z" fill="#50a5f5"/>
<path d="M178.1 116 L179.1 116 L179.1 120.6 L185.7 120.6 L185.7 121.6 L178.1 121.6Z" fill="#50a5f5"/>
<path d="M190.1 128.6 L191.1 128.6 L191.1 136.6 L190.1 136.6Z" fill="#50a5f5"/>
<path d="M190.1 154.6 L191.1 154.6 L191.1 159.6 L194.7 159.6 L194.7 160.8 L190.1 160.8Z" fill="#50a5f5"/>
<path d="M154.4 91.5 L166.6 91.5 L166.6 96 L163.6 95 L154.6 95Z" fill="#ffc864"/>
<path d="M154.4 91.5 L156.1 91.5 L156.1 92.5 L154.4 92.5Z" fill="#ff0000"/>
<path d="M87.7 102.6 L89.7 101.6 L90.7 106.6 L89.7 112.6 L87.7 110.6Z" fill="#e1ffff"/>
<path d="M96.3 130.6 L97.7 130.6 L97.7 132.6 L96.3 132.6Z" fill="#e1ffff"/>
<path d="M20.3 0V169M40.6 0V24.1 M40.6 96.6V169M61 0V169M81.3 0V169M101.6 0V24.1 M101.6 96.6V169M121.9 0V169M142.2 0V169M162.6 0V169M182.9 0V169M0 24.1H40.6 M101.6 24.1H203.2M0 48.3H203.2M0 72.4H203.2M0 96.6H40.6 M101.6 96.6H203.2M0 120.7H203.2M0 144.9H203.2" fill="none" stroke="#b4b4b4" stroke-width="0.6" stroke-dasharray="0.8 1.6"/>
<path d="M14.1 -0.2 L14.7 3.2 L16.3 4 L15.7 7.6 L16.5 10.6 L16.3 14.2 L12.7 15 L7.7 16 L3.7 15.2 L0.3 13.2 M0.2 48.1 L1.7 50.6 L3.7 54.5 L5.2 57.5 L6.6 59 L8.6 59.5 L10.6 61 L13.1 62.5 L15.1 64 L17.1 64.8 L19.6 65 L21.8 64 L24.1 63 L26 62.5 L27.7 63 L28.7 64.5 L29 67 L30 68.5 L32.5 69 L35.5 69.7 L38.5 70.5 L40.7 71 L43.5 71.5 L46.4 72 L49.4 72 L52.4 71 L55.4 70.5 L57.9 70.7 L61.4 70.7 L61.7 70.8 L64.2 69.8 L66.1 70.1 L68.1 71.6 L69.6 73.5 L70.6 76 L72.1 78 L74.1 80 L76.1 82 L78.1 83 L80.6 82.7 L82.4 82.2 L82.6 83.5 L81.4 85 L79.1 85.5 L77.4 85.8 L78.1 87.7 L79.6 90 L81.6 91.9 L83.6 92.9 L86 92.9 L88 91.9 L89.5 90.5 L90.3 88.3 L90.5 86 L91.3 86 L91.7 88 L92.5 90.5 L93 93.4 L92.5 96.4 L93.1 103.6 L95.1 110.6 L97.7 118.6 L99.4 124.5 L101.4 130.4 L103.9 136.4 L105.9 141.4 L106.9 146.4 L108.9 150.8 L111.4 153.8 L113.9 150.3 L117.3 147.9 L118.8 144.9 L119.8 143.7 L121.3 143.4 L120.8 139.4 L121.3 135.4 L122.3 131.4 L122.8 127.5 L122.3 123.5 L122.1 119.5 L122.7 118.6 L124.3 115.6 L128.7 113.2 L132.7 109.6 L135.7 105.6 L139.7 104 L141.2 101 L143.2 98.7 L145.7 97.3 L148.2 96 L149.7 93.5 L150.1 90 L152.1 88.5 L154.4 87.3 L155.4 86.7 L155.6 88.5 L157.6 88.5 L160.6 88 L163.1 87.5 L165.1 85.6 L167.1 83.6 L168.6 82.8 L169.6 84.6 L170.5 88 L171.5 91 L173 93.5 L175 95.5 L177 97.5 L177.5 100 L179 102 L180.5 104.5 L180.1 105.6 L181.1 108.1 L180.6 111.1 L179.6 114.1 L180.6 116 L183.1 116.7 L185.6 115.6 L188 113.6 L190.5 111.8 L192.3 112.6 L193.5 115.6 L194.5 119.5 L195.5 123.5 L196.7 127.5 L198 131.5 L198.7 135.5 L198 136.6 L197.5 139.6 L198 142.6 L197.3 145.5 L196.5 148.5 L196.3 151.5 L197 153.5 L199 155 L201 157.5 L202.5 159.5 L203.3 160.5 M203.3 131 L202.5 134.5 L201 138.9 L200 142.4 L201.7 138.1 L200.5 142.1 L200.3 145.5 L201 148 L202.3 149 L203.3 148.5 M183.6 168.9 L183.9 166.4 L185.6 165.6 L187.5 166.4 L190 167.2 L192.5 167.6 L194.5 168.9 M120.9 159.5 L120.8 156.3 L121 152.3 L121.5 148.4 L121.5 144.9 L123.8 146.4 L125.8 149.4 L127.8 153.3 L129.1 157.3 L129.5 159.5 L129.7 157.6 L128.3 162 L125.7 164.2 L123.1 163.2 L121.7 159.6 M0.2 64 L0.7 66 L1.2 68 L1.9 70.3 L2.7 71 L3.5 69 L4.5 67.3 L5.5 67 L6.1 68.5 L6.4 71 L5.7 73.5 L5.2 75.2 L6.6 76.4 L8.6 77.2 L10.6 76.4 L13.1 75.9 L15.6 76.4 L17.6 75.2 L19.6 73.5 L21.8 71 L23.9 68.5 L25.4 67 L25.8 68 L25.6 70.5 L26 73 L27 74.9 L29 76.4 L31.5 77.9 L34 78.9 L36 80.4 L37.5 81.9 L39 83.4 L40.1 84.2 L38.7 87.6 L36.7 91.2 L34.7 94.6 L32.7 97.6 L31.7 100.6 L29.7 103.6 L26.7 106.6 L23.7 108.6 L19.7 110.6 L15.7 112.6 L11.7 114.6 L7.7 116.6 L4.7 119.2 L0.3 121.6 M0.2 135.5 L2.2 136 L4.2 135.8 L4.7 137 L4.5 140 L3.9 143.5 L2.9 146.9 L1.5 149.9 L0.2 152.2 M18 133.1 L17.8 133.5 L17.3 133.8 L16.6 134 L15.8 134.1 L15 134 L14.3 133.8 L13.8 133.5 L13.6 133.1 L13.8 132.7 L14.3 132.4 L15 132.2 L15.8 132.1 L16.6 132.2 L17.3 132.4 L17.8 132.7 L18 133.1" fill="none" stroke="#2a2a2a" stroke-width="0.5" stroke-linejoin="round"/>
</g>
<path d="M0 169v2M20.3 169v2M40.6 169v2M61 169v2M81.3 169v2M101.6 169v2M121.9 169v2M142.2 169v2M162.6 169v2M182.9 169v2M203.2 169v2M0 0h-2M0 24.1h-2M0 48.3h-2M0 72.4h-2M0 96.6h-2M0 120.7h-2M0 144.9h-2M0 169h-2" fill="none" stroke="#333" stroke-width="0.7"/>
<rect x="0" y="0" width="203.2" height="169" fill="none" stroke="#383838" stroke-width="0.7"/>
<rect x="40.6" y="24.1" width="61" height="72.4" fill="none" stroke="#202020" stroke-width="1.1"/>
<text class="k" x="-4" y="175.2" textLength="7.9" lengthAdjust="spacingAndGlyphs">50E</text>
<text class="k" x="16.4" y="175.2" textLength="7.9" lengthAdjust="spacingAndGlyphs">55E</text>
<text class="k" x="36.7" y="175.2" textLength="7.9" lengthAdjust="spacingAndGlyphs">60E</text>
<text class="k" x="57" y="175.2" textLength="7.9" lengthAdjust="spacingAndGlyphs">65E</text>
<text class="k" x="77.3" y="175.2" textLength="7.9" lengthAdjust="spacingAndGlyphs">70E</text>
<text class="k" x="97.6" y="175.2" textLength="7.9" lengthAdjust="spacingAndGlyphs">75E</text>
<text class="k" x="118" y="175.2" textLength="7.9" lengthAdjust="spacingAndGlyphs">80E</text>
<text class="k" x="138.3" y="175.2" textLength="7.9" lengthAdjust="spacingAndGlyphs">85E</text>
<text class="k" x="158.6" y="175.2" textLength="7.9" lengthAdjust="spacingAndGlyphs">90E</text>
<text class="k" x="178.9" y="175.2" textLength="7.9" lengthAdjust="spacingAndGlyphs">95E</text>
<text class="k" x="198" y="175.2" textLength="10.4" lengthAdjust="spacingAndGlyphs">100E</text>
<text class="k" x="-11.1" y="1.8" textLength="7.9" lengthAdjust="spacingAndGlyphs">40N</text>
<text class="k" x="-11.1" y="25.9" textLength="7.9" lengthAdjust="spacingAndGlyphs">35N</text>
<text class="k" x="-11.1" y="50.1" textLength="7.9" lengthAdjust="spacingAndGlyphs">30N</text>
<text class="k" x="-11.1" y="74.2" textLength="7.9" lengthAdjust="spacingAndGlyphs">25N</text>
<text class="k" x="-11.1" y="98.4" textLength="7.9" lengthAdjust="spacingAndGlyphs">20N</text>
<text class="k" x="-11.1" y="122.5" textLength="7.9" lengthAdjust="spacingAndGlyphs">15N</text>
<text class="k" x="-11.1" y="146.7" textLength="7.9" lengthAdjust="spacingAndGlyphs">10N</text>
<text class="k" x="-9.1" y="170.8" textLength="5.9" lengthAdjust="spacingAndGlyphs">5N</text>
</g>
<rect x="462.2" y="239.6" width="6.7" height="15.7" fill="#6e0000" stroke="#222" stroke-width="0.5"/>
<rect x="462.2" y="255.3" width="6.7" height="15.7" fill="#c80000" stroke="#222" stroke-width="0.5"/>
<rect x="462.2" y="271.1" width="6.7" height="15.7" fill="#ff0000" stroke="#222" stroke-width="0.5"/>
<rect x="462.2" y="286.8" width="6.7" height="15.7" fill="#ffc864" stroke="#222" stroke-width="0.5"/>
<rect x="462.2" y="302.5" width="6.7" height="15.7" fill="#ffffff" stroke="#222" stroke-width="0.5"/>
<rect x="462.2" y="318.3" width="6.7" height="15.7" fill="#e1ffff" stroke="#222" stroke-width="0.5"/>
<rect x="462.2" y="334" width="6.7" height="15.7" fill="#50a5f5" stroke="#222" stroke-width="0.5"/>
<rect x="462.2" y="349.7" width="6.7" height="15.7" fill="#1464d2" stroke="#222" stroke-width="0.5"/>
<rect x="462.2" y="365.5" width="6.7" height="15.7" fill="#1e3cff" stroke="#222" stroke-width="0.5"/>
<path d="M462.2 239.6L465.5 223L468.9 239.6Z" fill="#a8a8a8" stroke="#222" stroke-width="0.5"/>
<path d="M462.2 381.2L465.5 396.9L468.9 381.2Z" fill="#8200dc" stroke="#222" stroke-width="0.5"/>
<text class="cb" x="471" y="242">3</text>
<text class="cb" x="471" y="257.7">2</text>
<text class="cb" x="471" y="273.5">1</text>
<text class="cb" x="471" y="289.2">0.5</text>
<text class="cb" x="471" y="304.9">0.25</text>
<text class="cb" x="471" y="320.7">−0.25</text>
<text class="cb" x="471" y="336.4">−0.5</text>
<text class="cb" x="471" y="352.1">−1</text>
<text class="cb" x="471" y="367.9">−2</text>
<text class="cb" x="471" y="383.6">−3</text>
</svg></body></html>
